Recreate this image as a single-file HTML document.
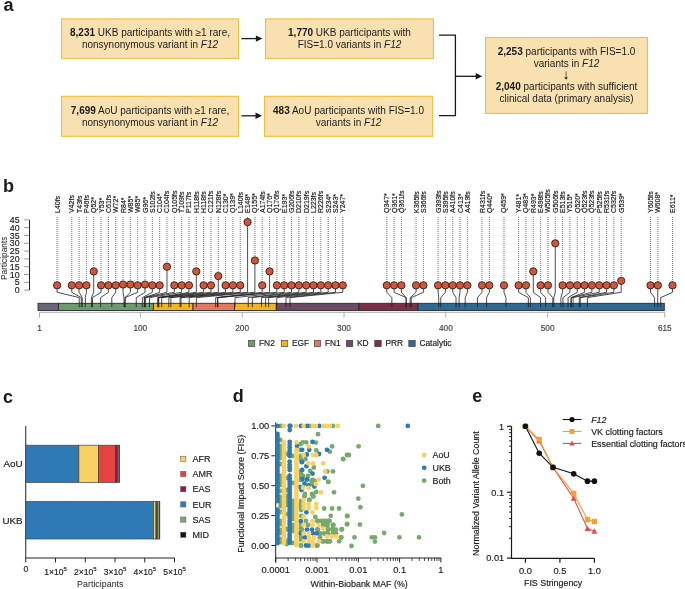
<!DOCTYPE html>
<html><head><meta charset="utf-8"><style>
html,body{margin:0;padding:0;background:#fff;overflow:hidden;}
text.w{stroke:#1a1a1a;stroke-width:0.16px;}
svg{display:block;will-change:transform;font-family:"Liberation Sans", sans-serif;}
</style></head><body>
<svg width="685" height="589" viewBox="0 0 685 589" font-family="Liberation Sans, sans-serif">
<rect width="685" height="589" fill="#fff"/>
<text x="3.4" y="10.7" font-size="18" font-weight="bold" fill="#1a1a1a">a</text>
<text x="2.9" y="192.2" font-size="18" font-weight="bold" fill="#1a1a1a">b</text>
<text x="2.9" y="402.8" font-size="18" font-weight="bold" fill="#1a1a1a">c</text>
<text x="232.8" y="402.1" font-size="18" font-weight="bold" fill="#1a1a1a">d</text>
<text x="472.2" y="402.1" font-size="18" font-weight="bold" fill="#1a1a1a">e</text>
<rect x="61.5" y="18.9" width="177.0" height="39.5" fill="#f9e0b0" stroke="#f1bd3e" stroke-width="1.1"/>
<text x="150" y="36.4" font-size="10" text-anchor="middle" fill="#1a1a1a"><tspan font-weight="bold">8,231</tspan><tspan> UKB participants with ≥1 rare,</tspan></text>
<text x="150" y="48.0" font-size="10" text-anchor="middle" fill="#1a1a1a"><tspan>nonsynonymous variant in </tspan><tspan font-style="italic">F12</tspan></text>
<rect x="61.5" y="96.3" width="177.0" height="40.000000000000014" fill="#f9e0b0" stroke="#f1bd3e" stroke-width="1.1"/>
<text x="150" y="113.9" font-size="10" text-anchor="middle" fill="#1a1a1a"><tspan font-weight="bold">7,699</tspan><tspan> AoU participants with ≥1 rare,</tspan></text>
<text x="150" y="125.5" font-size="10" text-anchor="middle" fill="#1a1a1a"><tspan>nonsynonymous variant in </tspan><tspan font-style="italic">F12</tspan></text>
<rect x="265.5" y="18.9" width="167.89999999999998" height="39.5" fill="#f9e0b0" stroke="#f1bd3e" stroke-width="1.1"/>
<text x="349.5" y="36.4" font-size="10" text-anchor="middle" fill="#1a1a1a"><tspan font-weight="bold">1,770</tspan><tspan> UKB participants with</tspan></text>
<text x="349.5" y="48.0" font-size="10" text-anchor="middle" fill="#1a1a1a"><tspan>FIS=1.0 variants in </tspan><tspan font-style="italic">F12</tspan></text>
<rect x="264.5" y="96.3" width="168.10000000000002" height="40.000000000000014" fill="#f9e0b0" stroke="#f1bd3e" stroke-width="1.1"/>
<text x="348.5" y="113.9" font-size="10" text-anchor="middle" fill="#1a1a1a"><tspan font-weight="bold">483</tspan><tspan> AoU participants with FIS=1.0</tspan></text>
<text x="348.5" y="125.5" font-size="10" text-anchor="middle" fill="#1a1a1a"><tspan>variants in </tspan><tspan font-style="italic">F12</tspan></text>
<rect x="485.5" y="37.5" width="161.89999999999998" height="75.9" fill="#f9e0b0" stroke="#f1bd3e" stroke-width="1.1"/>
<text x="566.5" y="54.6" font-size="10" text-anchor="middle" fill="#1a1a1a"><tspan font-weight="bold">2,253</tspan><tspan> participants with FIS=1.0</tspan></text>
<text x="566.5" y="66.6" font-size="10" text-anchor="middle" fill="#1a1a1a"><tspan>variants in </tspan><tspan font-style="italic">F12</tspan></text>
<text x="566.5" y="90.4" font-size="10" text-anchor="middle" fill="#1a1a1a"><tspan font-weight="bold">2,040</tspan><tspan> participants with sufficient</tspan></text>
<text x="566.5" y="101.8" font-size="10" text-anchor="middle" fill="#1a1a1a"><tspan>clinical data (primary analysis)</tspan></text>
<path d="M566.1 71.2 V77.6" stroke="#8a7e6a" stroke-width="1.3"/><path d="M564.3 77.2 L567.9 77.2 L566.1 79.7 Z" fill="#222"/>
<path d="M241.4 38.6 H257.4" stroke="#1a1a1a" stroke-width="1.3"/>
<path d="M255.89999999999998 35.4 L262.4 38.6 L255.89999999999998 41.800000000000004 Z" fill="#1a1a1a"/>
<path d="M241.4 115.8 H257.0" stroke="#1a1a1a" stroke-width="1.3"/>
<path d="M255.5 112.6 L262.0 115.8 L255.5 119.0 Z" fill="#1a1a1a"/>
<path d="M439 35.2 H455.4 V115.6 H439" fill="none" stroke="#1a1a1a" stroke-width="1.3"/>
<path d="M455.6 76.3 H477.2" stroke="#1a1a1a" stroke-width="1.3"/>
<path d="M475.7 73.1 L482.2 76.3 L475.7 79.5 Z" fill="#1a1a1a"/>
<path d="M29.5 219.9 V290.15" stroke="#222" stroke-width="1"/>
<path d="M24.1 290.15 H29.2" stroke="#999" stroke-width="1"/>
<text class="w" x="19.6" y="293.25" font-size="8.8" text-anchor="end" fill="#1a1a1a">0</text>
<path d="M24.1 282.34 H29.2" stroke="#999" stroke-width="1"/>
<text class="w" x="19.6" y="285.44" font-size="8.8" text-anchor="end" fill="#1a1a1a">5</text>
<path d="M24.1 274.53 H29.2" stroke="#999" stroke-width="1"/>
<text class="w" x="19.6" y="277.63" font-size="8.8" text-anchor="end" fill="#1a1a1a">10</text>
<path d="M24.1 266.72 H29.2" stroke="#999" stroke-width="1"/>
<text class="w" x="19.6" y="269.82" font-size="8.8" text-anchor="end" fill="#1a1a1a">15</text>
<path d="M24.1 258.91 H29.2" stroke="#999" stroke-width="1"/>
<text class="w" x="19.6" y="262.01" font-size="8.8" text-anchor="end" fill="#1a1a1a">20</text>
<path d="M24.1 251.09 H29.2" stroke="#999" stroke-width="1"/>
<text class="w" x="19.6" y="254.19" font-size="8.8" text-anchor="end" fill="#1a1a1a">25</text>
<path d="M24.1 243.28 H29.2" stroke="#999" stroke-width="1"/>
<text class="w" x="19.6" y="246.38" font-size="8.8" text-anchor="end" fill="#1a1a1a">30</text>
<path d="M24.1 235.47 H29.2" stroke="#999" stroke-width="1"/>
<text class="w" x="19.6" y="238.57" font-size="8.8" text-anchor="end" fill="#1a1a1a">35</text>
<path d="M24.1 227.66 H29.2" stroke="#999" stroke-width="1"/>
<text class="w" x="19.6" y="230.76" font-size="8.8" text-anchor="end" fill="#1a1a1a">40</text>
<path d="M24.1 219.85 H29.2" stroke="#999" stroke-width="1"/>
<text class="w" x="19.6" y="222.95" font-size="8.8" text-anchor="end" fill="#1a1a1a">45</text>
<text transform="translate(6.5 258.3) rotate(-90)" font-size="8.3" text-anchor="middle" fill="#1a1a1a">Participants</text>
<path d="M57.10 217 V281.66" stroke="#666" stroke-width="0.9" stroke-dasharray="1 1"/>
<text transform="translate(59.60 213) rotate(-90)" font-size="7" fill="#1a1a1a" stroke="#1a1a1a" stroke-width="0.18">L40fs</text>
<path d="M71.75 217 V281.66" stroke="#666" stroke-width="0.9" stroke-dasharray="1 1"/>
<text transform="translate(74.25 213) rotate(-90)" font-size="7" fill="#1a1a1a" stroke="#1a1a1a" stroke-width="0.18">V42fs</text>
<path d="M79.08 217 V281.66" stroke="#666" stroke-width="0.9" stroke-dasharray="1 1"/>
<text transform="translate(81.58 213) rotate(-90)" font-size="7" fill="#1a1a1a" stroke="#1a1a1a" stroke-width="0.18">T43fs</text>
<path d="M86.40 217 V281.66" stroke="#666" stroke-width="0.9" stroke-dasharray="1 1"/>
<text transform="translate(88.90 213) rotate(-90)" font-size="7" fill="#1a1a1a" stroke="#1a1a1a" stroke-width="0.18">P46fs</text>
<path d="M93.73 217 V267.75" stroke="#666" stroke-width="0.9" stroke-dasharray="1 1"/>
<text transform="translate(96.23 213) rotate(-90)" font-size="7" fill="#1a1a1a" stroke="#1a1a1a" stroke-width="0.18">Q52*</text>
<path d="M101.06 217 V281.66" stroke="#666" stroke-width="0.9" stroke-dasharray="1 1"/>
<text transform="translate(103.56 213) rotate(-90)" font-size="7" fill="#1a1a1a" stroke="#1a1a1a" stroke-width="0.18">Y53*</text>
<path d="M108.38 217 V281.66" stroke="#666" stroke-width="0.9" stroke-dasharray="1 1"/>
<text transform="translate(110.88 213) rotate(-90)" font-size="7" fill="#1a1a1a" stroke="#1a1a1a" stroke-width="0.18">C61fs</text>
<path d="M115.71 217 V281.66" stroke="#666" stroke-width="0.9" stroke-dasharray="1 1"/>
<text transform="translate(118.21 213) rotate(-90)" font-size="7" fill="#1a1a1a" stroke="#1a1a1a" stroke-width="0.18">W72*</text>
<path d="M123.03 217 V280.88" stroke="#666" stroke-width="0.9" stroke-dasharray="1 1"/>
<text transform="translate(125.53 213) rotate(-90)" font-size="7" fill="#1a1a1a" stroke="#1a1a1a" stroke-width="0.18">R84*</text>
<path d="M130.36 217 V280.88" stroke="#666" stroke-width="0.9" stroke-dasharray="1 1"/>
<text transform="translate(132.86 213) rotate(-90)" font-size="7" fill="#1a1a1a" stroke="#1a1a1a" stroke-width="0.18">W85*</text>
<path d="M137.69 217 V281.66" stroke="#666" stroke-width="0.9" stroke-dasharray="1 1"/>
<text transform="translate(140.19 213) rotate(-90)" font-size="7" fill="#1a1a1a" stroke="#1a1a1a" stroke-width="0.18">W85*</text>
<path d="M145.01 217 V280.88" stroke="#666" stroke-width="0.9" stroke-dasharray="1 1"/>
<text transform="translate(147.51 213) rotate(-90)" font-size="7" fill="#1a1a1a" stroke="#1a1a1a" stroke-width="0.18">G96*</text>
<path d="M152.34 217 V281.66" stroke="#666" stroke-width="0.9" stroke-dasharray="1 1"/>
<text transform="translate(154.84 213) rotate(-90)" font-size="7" fill="#1a1a1a" stroke="#1a1a1a" stroke-width="0.18">S102fs</text>
<path d="M159.66 217 V281.66" stroke="#666" stroke-width="0.9" stroke-dasharray="1 1"/>
<text transform="translate(162.16 213) rotate(-90)" font-size="7" fill="#1a1a1a" stroke="#1a1a1a" stroke-width="0.18">C104*</text>
<path d="M166.99 217 V263.07" stroke="#666" stroke-width="0.9" stroke-dasharray="1 1"/>
<text transform="translate(169.49 213) rotate(-90)" font-size="7" fill="#1a1a1a" stroke="#1a1a1a" stroke-width="0.18">C104fs</text>
<path d="M174.32 217 V281.66" stroke="#666" stroke-width="0.9" stroke-dasharray="1 1"/>
<text transform="translate(176.82 213) rotate(-90)" font-size="7" fill="#1a1a1a" stroke="#1a1a1a" stroke-width="0.18">Q105fs</text>
<path d="M181.64 217 V281.66" stroke="#666" stroke-width="0.9" stroke-dasharray="1 1"/>
<text transform="translate(184.14 213) rotate(-90)" font-size="7" fill="#1a1a1a" stroke="#1a1a1a" stroke-width="0.18">T109fs</text>
<path d="M188.97 217 V281.66" stroke="#666" stroke-width="0.9" stroke-dasharray="1 1"/>
<text transform="translate(191.47 213) rotate(-90)" font-size="7" fill="#1a1a1a" stroke="#1a1a1a" stroke-width="0.18">P117fs</text>
<path d="M196.29 217 V267.75" stroke="#666" stroke-width="0.9" stroke-dasharray="1 1"/>
<text transform="translate(198.79 213) rotate(-90)" font-size="7" fill="#1a1a1a" stroke="#1a1a1a" stroke-width="0.18">H118fs</text>
<path d="M203.62 217 V281.66" stroke="#666" stroke-width="0.9" stroke-dasharray="1 1"/>
<text transform="translate(206.12 213) rotate(-90)" font-size="7" fill="#1a1a1a" stroke="#1a1a1a" stroke-width="0.18">H118fs</text>
<path d="M210.95 217 V281.66" stroke="#666" stroke-width="0.9" stroke-dasharray="1 1"/>
<text transform="translate(213.45 213) rotate(-90)" font-size="7" fill="#1a1a1a" stroke="#1a1a1a" stroke-width="0.18">C121fs</text>
<path d="M218.27 217 V272.44" stroke="#666" stroke-width="0.9" stroke-dasharray="1 1"/>
<text transform="translate(220.77 213) rotate(-90)" font-size="7" fill="#1a1a1a" stroke="#1a1a1a" stroke-width="0.18">N128fs</text>
<path d="M225.60 217 V281.66" stroke="#666" stroke-width="0.9" stroke-dasharray="1 1"/>
<text transform="translate(228.10 213) rotate(-90)" font-size="7" fill="#1a1a1a" stroke="#1a1a1a" stroke-width="0.18">C130*</text>
<path d="M232.92 217 V281.66" stroke="#666" stroke-width="0.9" stroke-dasharray="1 1"/>
<text transform="translate(235.42 213) rotate(-90)" font-size="7" fill="#1a1a1a" stroke="#1a1a1a" stroke-width="0.18">Q139*</text>
<path d="M240.25 217 V281.66" stroke="#666" stroke-width="0.9" stroke-dasharray="1 1"/>
<text transform="translate(242.75 213) rotate(-90)" font-size="7" fill="#1a1a1a" stroke="#1a1a1a" stroke-width="0.18">L140fs</text>
<path d="M247.58 217 V218.39" stroke="#666" stroke-width="0.9" stroke-dasharray="1 1"/>
<text transform="translate(250.08 213) rotate(-90)" font-size="7" fill="#1a1a1a" stroke="#1a1a1a" stroke-width="0.18">E148*</text>
<path d="M254.90 217 V256.82" stroke="#666" stroke-width="0.9" stroke-dasharray="1 1"/>
<text transform="translate(257.40 213) rotate(-90)" font-size="7" fill="#1a1a1a" stroke="#1a1a1a" stroke-width="0.18">Q155*</text>
<path d="M262.23 217 V281.66" stroke="#666" stroke-width="0.9" stroke-dasharray="1 1"/>
<text transform="translate(264.73 213) rotate(-90)" font-size="7" fill="#1a1a1a" stroke="#1a1a1a" stroke-width="0.18">A174fs</text>
<path d="M269.55 217 V267.75" stroke="#666" stroke-width="0.9" stroke-dasharray="1 1"/>
<text transform="translate(272.05 213) rotate(-90)" font-size="7" fill="#1a1a1a" stroke="#1a1a1a" stroke-width="0.18">Q176*</text>
<path d="M276.88 217 V281.66" stroke="#666" stroke-width="0.9" stroke-dasharray="1 1"/>
<text transform="translate(279.38 213) rotate(-90)" font-size="7" fill="#1a1a1a" stroke="#1a1a1a" stroke-width="0.18">Q176fs</text>
<path d="M284.21 217 V281.66" stroke="#666" stroke-width="0.9" stroke-dasharray="1 1"/>
<text transform="translate(286.71 213) rotate(-90)" font-size="7" fill="#1a1a1a" stroke="#1a1a1a" stroke-width="0.18">E193*</text>
<path d="M291.53 217 V281.66" stroke="#666" stroke-width="0.9" stroke-dasharray="1 1"/>
<text transform="translate(294.03 213) rotate(-90)" font-size="7" fill="#1a1a1a" stroke="#1a1a1a" stroke-width="0.18">G206fs</text>
<path d="M298.86 217 V281.66" stroke="#666" stroke-width="0.9" stroke-dasharray="1 1"/>
<text transform="translate(301.36 213) rotate(-90)" font-size="7" fill="#1a1a1a" stroke="#1a1a1a" stroke-width="0.18">D210fs</text>
<path d="M306.18 217 V281.66" stroke="#666" stroke-width="0.9" stroke-dasharray="1 1"/>
<text transform="translate(308.68 213) rotate(-90)" font-size="7" fill="#1a1a1a" stroke="#1a1a1a" stroke-width="0.18">D219fs</text>
<path d="M313.51 217 V281.66" stroke="#666" stroke-width="0.9" stroke-dasharray="1 1"/>
<text transform="translate(316.01 213) rotate(-90)" font-size="7" fill="#1a1a1a" stroke="#1a1a1a" stroke-width="0.18">L223fs</text>
<path d="M320.84 217 V281.66" stroke="#666" stroke-width="0.9" stroke-dasharray="1 1"/>
<text transform="translate(323.34 213) rotate(-90)" font-size="7" fill="#1a1a1a" stroke="#1a1a1a" stroke-width="0.18">R226fs</text>
<path d="M328.16 217 V281.66" stroke="#666" stroke-width="0.9" stroke-dasharray="1 1"/>
<text transform="translate(330.66 213) rotate(-90)" font-size="7" fill="#1a1a1a" stroke="#1a1a1a" stroke-width="0.18">S234*</text>
<path d="M335.49 217 V281.66" stroke="#666" stroke-width="0.9" stroke-dasharray="1 1"/>
<text transform="translate(337.99 213) rotate(-90)" font-size="7" fill="#1a1a1a" stroke="#1a1a1a" stroke-width="0.18">S243*</text>
<path d="M342.81 217 V281.66" stroke="#666" stroke-width="0.9" stroke-dasharray="1 1"/>
<text transform="translate(345.31 213) rotate(-90)" font-size="7" fill="#1a1a1a" stroke="#1a1a1a" stroke-width="0.18">Y247*</text>
<path d="M386.77 217 V281.66" stroke="#666" stroke-width="0.9" stroke-dasharray="1 1"/>
<text transform="translate(389.27 213) rotate(-90)" font-size="7" fill="#1a1a1a" stroke="#1a1a1a" stroke-width="0.18">Q347*</text>
<path d="M394.10 217 V281.66" stroke="#666" stroke-width="0.9" stroke-dasharray="1 1"/>
<text transform="translate(396.60 213) rotate(-90)" font-size="7" fill="#1a1a1a" stroke="#1a1a1a" stroke-width="0.18">Q361*</text>
<path d="M401.42 217 V281.66" stroke="#666" stroke-width="0.9" stroke-dasharray="1 1"/>
<text transform="translate(403.92 213) rotate(-90)" font-size="7" fill="#1a1a1a" stroke="#1a1a1a" stroke-width="0.18">Q361fs</text>
<path d="M416.07 217 V281.66" stroke="#666" stroke-width="0.9" stroke-dasharray="1 1"/>
<text transform="translate(418.57 213) rotate(-90)" font-size="7" fill="#1a1a1a" stroke="#1a1a1a" stroke-width="0.18">K365fs</text>
<path d="M423.40 217 V281.66" stroke="#666" stroke-width="0.9" stroke-dasharray="1 1"/>
<text transform="translate(425.90 213) rotate(-90)" font-size="7" fill="#1a1a1a" stroke="#1a1a1a" stroke-width="0.18">S366fs</text>
<path d="M438.05 217 V281.66" stroke="#666" stroke-width="0.9" stroke-dasharray="1 1"/>
<text transform="translate(440.55 213) rotate(-90)" font-size="7" fill="#1a1a1a" stroke="#1a1a1a" stroke-width="0.18">G393fs</text>
<path d="M445.38 217 V281.66" stroke="#666" stroke-width="0.9" stroke-dasharray="1 1"/>
<text transform="translate(447.88 213) rotate(-90)" font-size="7" fill="#1a1a1a" stroke="#1a1a1a" stroke-width="0.18">S395fs</text>
<path d="M452.70 217 V281.66" stroke="#666" stroke-width="0.9" stroke-dasharray="1 1"/>
<text transform="translate(455.20 213) rotate(-90)" font-size="7" fill="#1a1a1a" stroke="#1a1a1a" stroke-width="0.18">A410fs</text>
<path d="M460.03 217 V281.66" stroke="#666" stroke-width="0.9" stroke-dasharray="1 1"/>
<text transform="translate(462.53 213) rotate(-90)" font-size="7" fill="#1a1a1a" stroke="#1a1a1a" stroke-width="0.18">C413*</text>
<path d="M467.36 217 V281.66" stroke="#666" stroke-width="0.9" stroke-dasharray="1 1"/>
<text transform="translate(469.86 213) rotate(-90)" font-size="7" fill="#1a1a1a" stroke="#1a1a1a" stroke-width="0.18">A419fs</text>
<path d="M482.01 217 V281.66" stroke="#666" stroke-width="0.9" stroke-dasharray="1 1"/>
<text transform="translate(484.51 213) rotate(-90)" font-size="7" fill="#1a1a1a" stroke="#1a1a1a" stroke-width="0.18">R431fs</text>
<path d="M489.33 217 V281.66" stroke="#666" stroke-width="0.9" stroke-dasharray="1 1"/>
<text transform="translate(491.83 213) rotate(-90)" font-size="7" fill="#1a1a1a" stroke="#1a1a1a" stroke-width="0.18">Q440*</text>
<path d="M503.99 217 V281.66" stroke="#666" stroke-width="0.9" stroke-dasharray="1 1"/>
<text transform="translate(506.49 213) rotate(-90)" font-size="7" fill="#1a1a1a" stroke="#1a1a1a" stroke-width="0.18">Q459*</text>
<path d="M518.64 217 V281.66" stroke="#666" stroke-width="0.9" stroke-dasharray="1 1"/>
<text transform="translate(521.14 213) rotate(-90)" font-size="7" fill="#1a1a1a" stroke="#1a1a1a" stroke-width="0.18">Y481*</text>
<path d="M525.96 217 V281.66" stroke="#666" stroke-width="0.9" stroke-dasharray="1 1"/>
<text transform="translate(528.46 213) rotate(-90)" font-size="7" fill="#1a1a1a" stroke="#1a1a1a" stroke-width="0.18">Q483*</text>
<path d="M533.29 217 V267.75" stroke="#666" stroke-width="0.9" stroke-dasharray="1 1"/>
<text transform="translate(535.79 213) rotate(-90)" font-size="7" fill="#1a1a1a" stroke="#1a1a1a" stroke-width="0.18">R493*</text>
<path d="M540.62 217 V281.66" stroke="#666" stroke-width="0.9" stroke-dasharray="1 1"/>
<text transform="translate(543.12 213) rotate(-90)" font-size="7" fill="#1a1a1a" stroke="#1a1a1a" stroke-width="0.18">E498fs</text>
<path d="M547.94 217 V281.66" stroke="#666" stroke-width="0.9" stroke-dasharray="1 1"/>
<text transform="translate(550.44 213) rotate(-90)" font-size="7" fill="#1a1a1a" stroke="#1a1a1a" stroke-width="0.18">W505fs</text>
<path d="M555.27 217 V239.63" stroke="#666" stroke-width="0.9" stroke-dasharray="1 1"/>
<text transform="translate(557.77 213) rotate(-90)" font-size="7" fill="#1a1a1a" stroke="#1a1a1a" stroke-width="0.18">G506fs</text>
<path d="M562.59 217 V281.66" stroke="#666" stroke-width="0.9" stroke-dasharray="1 1"/>
<text transform="translate(565.09 213) rotate(-90)" font-size="7" fill="#1a1a1a" stroke="#1a1a1a" stroke-width="0.18">E513fs</text>
<path d="M569.92 217 V281.66" stroke="#666" stroke-width="0.9" stroke-dasharray="1 1"/>
<text transform="translate(572.42 213) rotate(-90)" font-size="7" fill="#1a1a1a" stroke="#1a1a1a" stroke-width="0.18">Y515*</text>
<path d="M577.25 217 V281.66" stroke="#666" stroke-width="0.9" stroke-dasharray="1 1"/>
<text transform="translate(579.75 213) rotate(-90)" font-size="7" fill="#1a1a1a" stroke="#1a1a1a" stroke-width="0.18">Q520*</text>
<path d="M584.57 217 V281.66" stroke="#666" stroke-width="0.9" stroke-dasharray="1 1"/>
<text transform="translate(587.07 213) rotate(-90)" font-size="7" fill="#1a1a1a" stroke="#1a1a1a" stroke-width="0.18">Q523fs</text>
<path d="M591.90 217 V281.66" stroke="#666" stroke-width="0.9" stroke-dasharray="1 1"/>
<text transform="translate(594.40 213) rotate(-90)" font-size="7" fill="#1a1a1a" stroke="#1a1a1a" stroke-width="0.18">Q523fs</text>
<path d="M599.22 217 V281.66" stroke="#666" stroke-width="0.9" stroke-dasharray="1 1"/>
<text transform="translate(601.72 213) rotate(-90)" font-size="7" fill="#1a1a1a" stroke="#1a1a1a" stroke-width="0.18">P525fs</text>
<path d="M606.55 217 V281.66" stroke="#666" stroke-width="0.9" stroke-dasharray="1 1"/>
<text transform="translate(609.05 213) rotate(-90)" font-size="7" fill="#1a1a1a" stroke="#1a1a1a" stroke-width="0.18">R531fs</text>
<path d="M613.88 217 V281.66" stroke="#666" stroke-width="0.9" stroke-dasharray="1 1"/>
<text transform="translate(616.38 213) rotate(-90)" font-size="7" fill="#1a1a1a" stroke="#1a1a1a" stroke-width="0.18">C532fs</text>
<path d="M621.20 217 V277.13" stroke="#666" stroke-width="0.9" stroke-dasharray="1 1"/>
<text transform="translate(623.70 213) rotate(-90)" font-size="7" fill="#1a1a1a" stroke="#1a1a1a" stroke-width="0.18">G539*</text>
<path d="M650.51 217 V281.66" stroke="#666" stroke-width="0.9" stroke-dasharray="1 1"/>
<text transform="translate(653.01 213) rotate(-90)" font-size="7" fill="#1a1a1a" stroke="#1a1a1a" stroke-width="0.18">Y605fs</text>
<path d="M657.83 217 V281.66" stroke="#666" stroke-width="0.9" stroke-dasharray="1 1"/>
<text transform="translate(660.33 213) rotate(-90)" font-size="7" fill="#1a1a1a" stroke="#1a1a1a" stroke-width="0.18">W608*</text>
<path d="M672.48 217 V281.66" stroke="#666" stroke-width="0.9" stroke-dasharray="1 1"/>
<text transform="translate(674.98 213) rotate(-90)" font-size="7" fill="#1a1a1a" stroke="#1a1a1a" stroke-width="0.18">E611*</text>
<rect x="38.0" y="303.3" width="20.40" height="7.2" fill="#6a6878" stroke="#2a2a2a" stroke-width="0.9"/>
<rect x="58.4" y="303.3" width="95.00" height="7.2" fill="#6e9a72" stroke="#2a2a2a" stroke-width="0.9"/>
<rect x="153.4" y="303.3" width="39.60" height="7.2" fill="#f0b424" stroke="#2a2a2a" stroke-width="0.9"/>
<rect x="193.0" y="303.3" width="41.50" height="7.2" fill="#e07a62" stroke="#2a2a2a" stroke-width="0.9"/>
<rect x="234.5" y="303.3" width="41.80" height="7.2" fill="#f0b424" stroke="#2a2a2a" stroke-width="0.9"/>
<rect x="276.3" y="303.3" width="82.70" height="7.2" fill="#6e4a64" stroke="#2a2a2a" stroke-width="0.9"/>
<rect x="359.0" y="303.3" width="59.00" height="7.2" fill="#7a3045" stroke="#2a2a2a" stroke-width="0.9"/>
<rect x="418.0" y="303.3" width="246.30" height="7.2" fill="#2e6a92" stroke="#2a2a2a" stroke-width="0.9"/>
<path d="M57.10 285.31 V292.3 L79.22 297.6 V307.2" fill="none" stroke="#1e1e1e" stroke-width="0.8"/>
<path d="M71.75 285.31 V292.3 L81.25 297.6 V307.2" fill="none" stroke="#1e1e1e" stroke-width="0.8"/>
<path d="M79.08 285.31 V292.3 L82.27 297.6 V307.2" fill="none" stroke="#1e1e1e" stroke-width="0.8"/>
<path d="M86.40 285.31 V292.3 L85.33 297.6 V307.2" fill="none" stroke="#1e1e1e" stroke-width="0.8"/>
<path d="M93.73 271.40 V292.3 L91.44 297.6 V307.2" fill="none" stroke="#1e1e1e" stroke-width="0.8"/>
<path d="M101.06 285.31 V292.3 L92.46 297.6 V307.2" fill="none" stroke="#1e1e1e" stroke-width="0.8"/>
<path d="M108.38 285.31 V292.3 L100.60 297.6 V307.2" fill="none" stroke="#1e1e1e" stroke-width="0.8"/>
<path d="M115.71 285.31 V292.3 L111.81 297.6 V307.2" fill="none" stroke="#1e1e1e" stroke-width="0.8"/>
<path d="M123.03 284.53 V292.3 L124.03 297.6 V307.2" fill="none" stroke="#1e1e1e" stroke-width="0.8"/>
<path d="M130.36 284.53 V292.3 L125.05 297.6 V307.2" fill="none" stroke="#1e1e1e" stroke-width="0.8"/>
<path d="M137.69 285.31 V292.3 L125.05 297.6 V307.2" fill="none" stroke="#1e1e1e" stroke-width="0.8"/>
<path d="M145.01 284.53 V292.3 L136.25 297.6 V307.2" fill="none" stroke="#1e1e1e" stroke-width="0.8"/>
<path d="M152.34 285.31 V292.3 L142.36 297.6 V307.2" fill="none" stroke="#1e1e1e" stroke-width="0.8"/>
<path d="M159.66 285.31 V292.3 L144.40 297.6 V307.2" fill="none" stroke="#1e1e1e" stroke-width="0.8"/>
<path d="M166.99 266.72 V292.3 L144.40 297.6 V307.2" fill="none" stroke="#1e1e1e" stroke-width="0.8"/>
<path d="M174.32 285.31 V292.3 L145.41 297.6 V307.2" fill="none" stroke="#1e1e1e" stroke-width="0.8"/>
<path d="M181.64 285.31 V292.3 L149.49 297.6 V307.2" fill="none" stroke="#1e1e1e" stroke-width="0.8"/>
<path d="M188.97 285.31 V292.3 L157.63 297.6 V307.2" fill="none" stroke="#1e1e1e" stroke-width="0.8"/>
<path d="M196.29 271.40 V292.3 L158.65 297.6 V307.2" fill="none" stroke="#1e1e1e" stroke-width="0.8"/>
<path d="M203.62 285.31 V292.3 L158.65 297.6 V307.2" fill="none" stroke="#1e1e1e" stroke-width="0.8"/>
<path d="M210.95 285.31 V292.3 L161.71 297.6 V307.2" fill="none" stroke="#1e1e1e" stroke-width="0.8"/>
<path d="M218.27 276.09 V292.3 L168.84 297.6 V307.2" fill="none" stroke="#1e1e1e" stroke-width="0.8"/>
<path d="M225.60 285.31 V292.3 L170.87 297.6 V307.2" fill="none" stroke="#1e1e1e" stroke-width="0.8"/>
<path d="M232.92 285.31 V292.3 L180.04 297.6 V307.2" fill="none" stroke="#1e1e1e" stroke-width="0.8"/>
<path d="M240.25 285.31 V292.3 L181.06 297.6 V307.2" fill="none" stroke="#1e1e1e" stroke-width="0.8"/>
<path d="M247.58 222.04 V292.3 L189.20 297.6 V307.2" fill="none" stroke="#1e1e1e" stroke-width="0.8"/>
<path d="M254.90 260.47 V292.3 L196.33 297.6 V307.2" fill="none" stroke="#1e1e1e" stroke-width="0.8"/>
<path d="M262.23 285.31 V292.3 L215.68 297.6 V307.2" fill="none" stroke="#1e1e1e" stroke-width="0.8"/>
<path d="M269.55 271.40 V292.3 L217.72 297.6 V307.2" fill="none" stroke="#1e1e1e" stroke-width="0.8"/>
<path d="M276.88 285.31 V292.3 L217.72 297.6 V307.2" fill="none" stroke="#1e1e1e" stroke-width="0.8"/>
<path d="M284.21 285.31 V292.3 L235.03 297.6 V307.2" fill="none" stroke="#1e1e1e" stroke-width="0.8"/>
<path d="M291.53 285.31 V292.3 L248.27 297.6 V307.2" fill="none" stroke="#1e1e1e" stroke-width="0.8"/>
<path d="M298.86 285.31 V292.3 L252.35 297.6 V307.2" fill="none" stroke="#1e1e1e" stroke-width="0.8"/>
<path d="M306.18 285.31 V292.3 L261.51 297.6 V307.2" fill="none" stroke="#1e1e1e" stroke-width="0.8"/>
<path d="M313.51 285.31 V292.3 L265.58 297.6 V307.2" fill="none" stroke="#1e1e1e" stroke-width="0.8"/>
<path d="M320.84 285.31 V292.3 L268.64 297.6 V307.2" fill="none" stroke="#1e1e1e" stroke-width="0.8"/>
<path d="M328.16 285.31 V292.3 L276.79 297.6 V307.2" fill="none" stroke="#1e1e1e" stroke-width="0.8"/>
<path d="M335.49 285.31 V292.3 L285.95 297.6 V307.2" fill="none" stroke="#1e1e1e" stroke-width="0.8"/>
<path d="M342.81 285.31 V292.3 L290.03 297.6 V307.2" fill="none" stroke="#1e1e1e" stroke-width="0.8"/>
<path d="M386.77 285.31 V292.3 L391.87 297.6 V307.2" fill="none" stroke="#1e1e1e" stroke-width="0.8"/>
<path d="M394.10 285.31 V292.3 L406.12 297.6 V307.2" fill="none" stroke="#1e1e1e" stroke-width="0.8"/>
<path d="M401.42 285.31 V292.3 L406.12 297.6 V307.2" fill="none" stroke="#1e1e1e" stroke-width="0.8"/>
<path d="M416.07 285.31 V292.3 L410.20 297.6 V307.2" fill="none" stroke="#1e1e1e" stroke-width="0.8"/>
<path d="M423.40 285.31 V292.3 L411.22 297.6 V307.2" fill="none" stroke="#1e1e1e" stroke-width="0.8"/>
<path d="M438.05 285.31 V292.3 L438.71 297.6 V307.2" fill="none" stroke="#1e1e1e" stroke-width="0.8"/>
<path d="M445.38 285.31 V292.3 L440.75 297.6 V307.2" fill="none" stroke="#1e1e1e" stroke-width="0.8"/>
<path d="M452.70 285.31 V292.3 L456.03 297.6 V307.2" fill="none" stroke="#1e1e1e" stroke-width="0.8"/>
<path d="M460.03 285.31 V292.3 L459.08 297.6 V307.2" fill="none" stroke="#1e1e1e" stroke-width="0.8"/>
<path d="M467.36 285.31 V292.3 L465.19 297.6 V307.2" fill="none" stroke="#1e1e1e" stroke-width="0.8"/>
<path d="M482.01 285.31 V292.3 L477.41 297.6 V307.2" fill="none" stroke="#1e1e1e" stroke-width="0.8"/>
<path d="M489.33 285.31 V292.3 L486.58 297.6 V307.2" fill="none" stroke="#1e1e1e" stroke-width="0.8"/>
<path d="M503.99 285.31 V292.3 L505.93 297.6 V307.2" fill="none" stroke="#1e1e1e" stroke-width="0.8"/>
<path d="M518.64 285.31 V292.3 L528.33 297.6 V307.2" fill="none" stroke="#1e1e1e" stroke-width="0.8"/>
<path d="M525.96 285.31 V292.3 L530.37 297.6 V307.2" fill="none" stroke="#1e1e1e" stroke-width="0.8"/>
<path d="M533.29 271.40 V292.3 L540.55 297.6 V307.2" fill="none" stroke="#1e1e1e" stroke-width="0.8"/>
<path d="M540.62 285.31 V292.3 L545.64 297.6 V307.2" fill="none" stroke="#1e1e1e" stroke-width="0.8"/>
<path d="M547.94 285.31 V292.3 L552.77 297.6 V307.2" fill="none" stroke="#1e1e1e" stroke-width="0.8"/>
<path d="M555.27 243.28 V292.3 L553.79 297.6 V307.2" fill="none" stroke="#1e1e1e" stroke-width="0.8"/>
<path d="M562.59 285.31 V292.3 L560.92 297.6 V307.2" fill="none" stroke="#1e1e1e" stroke-width="0.8"/>
<path d="M569.92 285.31 V292.3 L562.96 297.6 V307.2" fill="none" stroke="#1e1e1e" stroke-width="0.8"/>
<path d="M577.25 285.31 V292.3 L568.05 297.6 V307.2" fill="none" stroke="#1e1e1e" stroke-width="0.8"/>
<path d="M584.57 285.31 V292.3 L571.10 297.6 V307.2" fill="none" stroke="#1e1e1e" stroke-width="0.8"/>
<path d="M591.90 285.31 V292.3 L571.10 297.6 V307.2" fill="none" stroke="#1e1e1e" stroke-width="0.8"/>
<path d="M599.22 285.31 V292.3 L573.14 297.6 V307.2" fill="none" stroke="#1e1e1e" stroke-width="0.8"/>
<path d="M606.55 285.31 V292.3 L579.25 297.6 V307.2" fill="none" stroke="#1e1e1e" stroke-width="0.8"/>
<path d="M613.88 285.31 V292.3 L580.27 297.6 V307.2" fill="none" stroke="#1e1e1e" stroke-width="0.8"/>
<path d="M621.20 280.78 V292.3 L587.40 297.6 V307.2" fill="none" stroke="#1e1e1e" stroke-width="0.8"/>
<path d="M650.51 285.31 V292.3 L654.61 297.6 V307.2" fill="none" stroke="#1e1e1e" stroke-width="0.8"/>
<path d="M657.83 285.31 V292.3 L657.67 297.6 V307.2" fill="none" stroke="#1e1e1e" stroke-width="0.8"/>
<path d="M672.48 285.31 V292.3 L660.72 297.6 V307.2" fill="none" stroke="#1e1e1e" stroke-width="0.8"/>
<circle cx="57.10" cy="285.31" r="3.65" fill="#d2553a" stroke="#2a1610" stroke-width="0.85"/>
<circle cx="71.75" cy="285.31" r="3.65" fill="#d2553a" stroke="#2a1610" stroke-width="0.85"/>
<circle cx="79.08" cy="285.31" r="3.65" fill="#d2553a" stroke="#2a1610" stroke-width="0.85"/>
<circle cx="86.40" cy="285.31" r="3.65" fill="#d2553a" stroke="#2a1610" stroke-width="0.85"/>
<circle cx="93.73" cy="271.40" r="3.65" fill="#d2553a" stroke="#2a1610" stroke-width="0.85"/>
<circle cx="101.06" cy="285.31" r="3.65" fill="#d2553a" stroke="#2a1610" stroke-width="0.85"/>
<circle cx="108.38" cy="285.31" r="3.65" fill="#d2553a" stroke="#2a1610" stroke-width="0.85"/>
<circle cx="115.71" cy="285.31" r="3.65" fill="#d2553a" stroke="#2a1610" stroke-width="0.85"/>
<circle cx="123.03" cy="284.53" r="3.65" fill="#d2553a" stroke="#2a1610" stroke-width="0.85"/>
<circle cx="130.36" cy="284.53" r="3.65" fill="#d2553a" stroke="#2a1610" stroke-width="0.85"/>
<circle cx="137.69" cy="285.31" r="3.65" fill="#d2553a" stroke="#2a1610" stroke-width="0.85"/>
<circle cx="145.01" cy="284.53" r="3.65" fill="#d2553a" stroke="#2a1610" stroke-width="0.85"/>
<circle cx="152.34" cy="285.31" r="3.65" fill="#d2553a" stroke="#2a1610" stroke-width="0.85"/>
<circle cx="159.66" cy="285.31" r="3.65" fill="#d2553a" stroke="#2a1610" stroke-width="0.85"/>
<circle cx="166.99" cy="266.72" r="3.65" fill="#d2553a" stroke="#2a1610" stroke-width="0.85"/>
<circle cx="174.32" cy="285.31" r="3.65" fill="#d2553a" stroke="#2a1610" stroke-width="0.85"/>
<circle cx="181.64" cy="285.31" r="3.65" fill="#d2553a" stroke="#2a1610" stroke-width="0.85"/>
<circle cx="188.97" cy="285.31" r="3.65" fill="#d2553a" stroke="#2a1610" stroke-width="0.85"/>
<circle cx="196.29" cy="271.40" r="3.65" fill="#d2553a" stroke="#2a1610" stroke-width="0.85"/>
<circle cx="203.62" cy="285.31" r="3.65" fill="#d2553a" stroke="#2a1610" stroke-width="0.85"/>
<circle cx="210.95" cy="285.31" r="3.65" fill="#d2553a" stroke="#2a1610" stroke-width="0.85"/>
<circle cx="218.27" cy="276.09" r="3.65" fill="#d2553a" stroke="#2a1610" stroke-width="0.85"/>
<circle cx="225.60" cy="285.31" r="3.65" fill="#d2553a" stroke="#2a1610" stroke-width="0.85"/>
<circle cx="232.92" cy="285.31" r="3.65" fill="#d2553a" stroke="#2a1610" stroke-width="0.85"/>
<circle cx="240.25" cy="285.31" r="3.65" fill="#d2553a" stroke="#2a1610" stroke-width="0.85"/>
<circle cx="247.58" cy="222.04" r="3.65" fill="#d2553a" stroke="#2a1610" stroke-width="0.85"/>
<circle cx="254.90" cy="260.47" r="3.65" fill="#d2553a" stroke="#2a1610" stroke-width="0.85"/>
<circle cx="262.23" cy="285.31" r="3.65" fill="#d2553a" stroke="#2a1610" stroke-width="0.85"/>
<circle cx="269.55" cy="271.40" r="3.65" fill="#d2553a" stroke="#2a1610" stroke-width="0.85"/>
<circle cx="276.88" cy="285.31" r="3.65" fill="#d2553a" stroke="#2a1610" stroke-width="0.85"/>
<circle cx="284.21" cy="285.31" r="3.65" fill="#d2553a" stroke="#2a1610" stroke-width="0.85"/>
<circle cx="291.53" cy="285.31" r="3.65" fill="#d2553a" stroke="#2a1610" stroke-width="0.85"/>
<circle cx="298.86" cy="285.31" r="3.65" fill="#d2553a" stroke="#2a1610" stroke-width="0.85"/>
<circle cx="306.18" cy="285.31" r="3.65" fill="#d2553a" stroke="#2a1610" stroke-width="0.85"/>
<circle cx="313.51" cy="285.31" r="3.65" fill="#d2553a" stroke="#2a1610" stroke-width="0.85"/>
<circle cx="320.84" cy="285.31" r="3.65" fill="#d2553a" stroke="#2a1610" stroke-width="0.85"/>
<circle cx="328.16" cy="285.31" r="3.65" fill="#d2553a" stroke="#2a1610" stroke-width="0.85"/>
<circle cx="335.49" cy="285.31" r="3.65" fill="#d2553a" stroke="#2a1610" stroke-width="0.85"/>
<circle cx="342.81" cy="285.31" r="3.65" fill="#d2553a" stroke="#2a1610" stroke-width="0.85"/>
<circle cx="386.77" cy="285.31" r="3.65" fill="#d2553a" stroke="#2a1610" stroke-width="0.85"/>
<circle cx="394.10" cy="285.31" r="3.65" fill="#d2553a" stroke="#2a1610" stroke-width="0.85"/>
<circle cx="401.42" cy="285.31" r="3.65" fill="#d2553a" stroke="#2a1610" stroke-width="0.85"/>
<circle cx="416.07" cy="285.31" r="3.65" fill="#d2553a" stroke="#2a1610" stroke-width="0.85"/>
<circle cx="423.40" cy="285.31" r="3.65" fill="#d2553a" stroke="#2a1610" stroke-width="0.85"/>
<circle cx="438.05" cy="285.31" r="3.65" fill="#d2553a" stroke="#2a1610" stroke-width="0.85"/>
<circle cx="445.38" cy="285.31" r="3.65" fill="#d2553a" stroke="#2a1610" stroke-width="0.85"/>
<circle cx="452.70" cy="285.31" r="3.65" fill="#d2553a" stroke="#2a1610" stroke-width="0.85"/>
<circle cx="460.03" cy="285.31" r="3.65" fill="#d2553a" stroke="#2a1610" stroke-width="0.85"/>
<circle cx="467.36" cy="285.31" r="3.65" fill="#d2553a" stroke="#2a1610" stroke-width="0.85"/>
<circle cx="482.01" cy="285.31" r="3.65" fill="#d2553a" stroke="#2a1610" stroke-width="0.85"/>
<circle cx="489.33" cy="285.31" r="3.65" fill="#d2553a" stroke="#2a1610" stroke-width="0.85"/>
<circle cx="503.99" cy="285.31" r="3.65" fill="#d2553a" stroke="#2a1610" stroke-width="0.85"/>
<circle cx="518.64" cy="285.31" r="3.65" fill="#d2553a" stroke="#2a1610" stroke-width="0.85"/>
<circle cx="525.96" cy="285.31" r="3.65" fill="#d2553a" stroke="#2a1610" stroke-width="0.85"/>
<circle cx="533.29" cy="271.40" r="3.65" fill="#d2553a" stroke="#2a1610" stroke-width="0.85"/>
<circle cx="540.62" cy="285.31" r="3.65" fill="#d2553a" stroke="#2a1610" stroke-width="0.85"/>
<circle cx="547.94" cy="285.31" r="3.65" fill="#d2553a" stroke="#2a1610" stroke-width="0.85"/>
<circle cx="555.27" cy="243.28" r="3.65" fill="#d2553a" stroke="#2a1610" stroke-width="0.85"/>
<circle cx="562.59" cy="285.31" r="3.65" fill="#d2553a" stroke="#2a1610" stroke-width="0.85"/>
<circle cx="569.92" cy="285.31" r="3.65" fill="#d2553a" stroke="#2a1610" stroke-width="0.85"/>
<circle cx="577.25" cy="285.31" r="3.65" fill="#d2553a" stroke="#2a1610" stroke-width="0.85"/>
<circle cx="584.57" cy="285.31" r="3.65" fill="#d2553a" stroke="#2a1610" stroke-width="0.85"/>
<circle cx="591.90" cy="285.31" r="3.65" fill="#d2553a" stroke="#2a1610" stroke-width="0.85"/>
<circle cx="599.22" cy="285.31" r="3.65" fill="#d2553a" stroke="#2a1610" stroke-width="0.85"/>
<circle cx="606.55" cy="285.31" r="3.65" fill="#d2553a" stroke="#2a1610" stroke-width="0.85"/>
<circle cx="613.88" cy="285.31" r="3.65" fill="#d2553a" stroke="#2a1610" stroke-width="0.85"/>
<circle cx="621.20" cy="280.78" r="3.65" fill="#d2553a" stroke="#2a1610" stroke-width="0.85"/>
<circle cx="650.51" cy="285.31" r="3.65" fill="#d2553a" stroke="#2a1610" stroke-width="0.85"/>
<circle cx="657.83" cy="285.31" r="3.65" fill="#d2553a" stroke="#2a1610" stroke-width="0.85"/>
<circle cx="672.48" cy="285.31" r="3.65" fill="#d2553a" stroke="#2a1610" stroke-width="0.85"/>
<path d="M39.5 317.5 V312.3 H664.8 V317.5" fill="none" stroke="#aaa" stroke-width="1"/>
<path d="M140.32 312.3 V317.5" stroke="#aaa" stroke-width="1"/>
<path d="M242.16 312.3 V317.5" stroke="#aaa" stroke-width="1"/>
<path d="M344.00 312.3 V317.5" stroke="#aaa" stroke-width="1"/>
<path d="M445.84 312.3 V317.5" stroke="#aaa" stroke-width="1"/>
<path d="M547.68 312.3 V317.5" stroke="#aaa" stroke-width="1"/>
<text class="w" x="39.50" y="331.2" font-size="8.3" text-anchor="middle" fill="#555">1</text>
<text class="w" x="140.32" y="331.2" font-size="8.3" text-anchor="middle" fill="#555">100</text>
<text class="w" x="242.16" y="331.2" font-size="8.3" text-anchor="middle" fill="#555">200</text>
<text class="w" x="344.00" y="331.2" font-size="8.3" text-anchor="middle" fill="#555">300</text>
<text class="w" x="445.84" y="331.2" font-size="8.3" text-anchor="middle" fill="#555">400</text>
<text class="w" x="547.68" y="331.2" font-size="8.3" text-anchor="middle" fill="#555">500</text>
<text class="w" x="664.80" y="331.2" font-size="8.3" text-anchor="middle" fill="#555">615</text>
<rect x="248.4" y="340.3" width="6.4" height="6.4" fill="#6e9a72" stroke="#333" stroke-width="0.6"/>
<text class="w" x="259.0" y="346.4" font-size="8.4" fill="#1a1a1a">FN2</text>
<rect x="281.4" y="340.3" width="6.4" height="6.4" fill="#f0b424" stroke="#333" stroke-width="0.6"/>
<text class="w" x="292.0" y="346.4" font-size="8.4" fill="#1a1a1a">EGF</text>
<rect x="314.3" y="340.3" width="6.4" height="6.4" fill="#e07a62" stroke="#333" stroke-width="0.6"/>
<text class="w" x="324.90000000000003" y="346.4" font-size="8.4" fill="#1a1a1a">FN1</text>
<rect x="346.4" y="340.3" width="6.4" height="6.4" fill="#6e4a64" stroke="#333" stroke-width="0.6"/>
<text class="w" x="357.0" y="346.4" font-size="8.4" fill="#1a1a1a">KD</text>
<rect x="374.8" y="340.3" width="6.4" height="6.4" fill="#7a3045" stroke="#333" stroke-width="0.6"/>
<text class="w" x="385.40000000000003" y="346.4" font-size="8.4" fill="#1a1a1a">PRR</text>
<rect x="408.8" y="340.3" width="6.4" height="6.4" fill="#2e6a92" stroke="#333" stroke-width="0.6"/>
<text class="w" x="419.40000000000003" y="346.4" font-size="8.4" fill="#1a1a1a">Catalytic</text>
<path d="M25.75 425.9 V558" stroke="#222" stroke-width="1"/>
<path d="M25.75 558 H174.5" stroke="#222" stroke-width="1"/>
<path d="M25.75 558 V562.4" stroke="#222" stroke-width="1"/>
<path d="M55.50 558 V562.4" stroke="#222" stroke-width="1"/>
<path d="M85.25 558 V562.4" stroke="#222" stroke-width="1"/>
<path d="M115.00 558 V562.4" stroke="#222" stroke-width="1"/>
<path d="M144.75 558 V562.4" stroke="#222" stroke-width="1"/>
<path d="M174.50 558 V562.4" stroke="#222" stroke-width="1"/>
<text class="w" x="25.8" y="572.2" font-size="8.6" text-anchor="middle" fill="#1a1a1a">0</text>
<text class="w" x="55.50" y="574.6" font-size="8.6" text-anchor="middle" fill="#1a1a1a">1×10<tspan font-size="6" dy="-3.5">5</tspan></text>
<text class="w" x="85.25" y="574.6" font-size="8.6" text-anchor="middle" fill="#1a1a1a">2×10<tspan font-size="6" dy="-3.5">5</tspan></text>
<text class="w" x="115.00" y="574.6" font-size="8.6" text-anchor="middle" fill="#1a1a1a">3×10<tspan font-size="6" dy="-3.5">5</tspan></text>
<text class="w" x="144.75" y="574.6" font-size="8.6" text-anchor="middle" fill="#1a1a1a">4×10<tspan font-size="6" dy="-3.5">5</tspan></text>
<text class="w" x="174.50" y="574.6" font-size="8.6" text-anchor="middle" fill="#1a1a1a">5×10<tspan font-size="6" dy="-3.5">5</tspan></text>
<text x="100.3" y="586.8" font-size="8.9" text-anchor="middle" fill="#1a1a1a">Participants</text>
<text class="w" x="22.6" y="467.2" font-size="9.8" text-anchor="end" fill="#1a1a1a">AoU</text>
<text class="w" x="22.6" y="523.6" font-size="9.8" text-anchor="end" fill="#1a1a1a">UKB</text>
<rect x="25.75" y="445.2" width="53.10" height="37.30000000000001" fill="#2f7ab5" stroke="#444" stroke-width="0.7"/>
<rect x="78.85" y="445.2" width="19.70" height="37.30000000000001" fill="#f8d064" stroke="#444" stroke-width="0.7"/>
<rect x="98.55" y="445.2" width="16.80" height="37.30000000000001" fill="#e5433e" stroke="#444" stroke-width="0.7"/>
<rect x="115.35" y="445.2" width="2.10" height="37.30000000000001" fill="#8a1550" stroke="#444" stroke-width="0.7"/>
<rect x="117.45" y="445.2" width="1.60" height="37.30000000000001" fill="#6f9a68" stroke="#444" stroke-width="0.7"/>
<rect x="119.05" y="445.2" width="0.50" height="37.30000000000001" fill="#111" stroke="#444" stroke-width="0.7"/>
<rect x="25.75" y="501.5" width="127.75" height="37.5" fill="#2f7ab5" stroke="#444" stroke-width="0.7"/>
<rect x="153.50" y="501.5" width="2.50" height="37.5" fill="#f8d064" stroke="#444" stroke-width="0.7"/>
<rect x="156.00" y="501.5" width="0.40" height="37.5" fill="#e5433e" stroke="#444" stroke-width="0.7"/>
<rect x="156.40" y="501.5" width="0.90" height="37.5" fill="#5a1030" stroke="#444" stroke-width="0.7"/>
<rect x="157.30" y="501.5" width="2.30" height="37.5" fill="#79a86f" stroke="#444" stroke-width="0.7"/>
<rect x="159.60" y="501.5" width="0.20" height="37.5" fill="#111" stroke="#444" stroke-width="0.7"/>
<rect x="180.7" y="456.20" width="5.2" height="5.2" fill="#f8d064" stroke="#555" stroke-width="0.5"/>
<text class="w" x="192.5" y="462.00" font-size="9" fill="#1a1a1a">AFR</text>
<rect x="180.7" y="471.40" width="5.2" height="5.2" fill="#e5433e" stroke="#555" stroke-width="0.5"/>
<text class="w" x="192.5" y="477.20" font-size="9" fill="#1a1a1a">AMR</text>
<rect x="180.7" y="486.60" width="5.2" height="5.2" fill="#8a1550" stroke="#555" stroke-width="0.5"/>
<text class="w" x="192.5" y="492.40" font-size="9" fill="#1a1a1a">EAS</text>
<rect x="180.7" y="501.80" width="5.2" height="5.2" fill="#2f7ab5" stroke="#555" stroke-width="0.5"/>
<text class="w" x="192.5" y="507.60" font-size="9" fill="#1a1a1a">EUR</text>
<rect x="180.7" y="517.00" width="5.2" height="5.2" fill="#79a86f" stroke="#555" stroke-width="0.5"/>
<text class="w" x="192.5" y="522.80" font-size="9" fill="#1a1a1a">SAS</text>
<rect x="180.7" y="532.20" width="5.2" height="5.2" fill="#111" stroke="#555" stroke-width="0.5"/>
<text class="w" x="192.5" y="538.00" font-size="9" fill="#1a1a1a">MID</text>
<path d="M275.7 422.5 V562.4" stroke="#222" stroke-width="1"/>
<path d="M275.7 558.0 H441.2" stroke="#222" stroke-width="1.1"/>
<path d="M275.70 558.0 V562.4" stroke="#222" stroke-width="1"/>
<path d="M288.13 558.0 V561.0" stroke="#222" stroke-width="0.8"/>
<path d="M295.41 558.0 V561.0" stroke="#222" stroke-width="0.8"/>
<path d="M300.57 558.0 V561.0" stroke="#222" stroke-width="0.8"/>
<path d="M304.57 558.0 V561.0" stroke="#222" stroke-width="0.8"/>
<path d="M307.84 558.0 V561.0" stroke="#222" stroke-width="0.8"/>
<path d="M310.60 558.0 V561.0" stroke="#222" stroke-width="0.8"/>
<path d="M313.00 558.0 V561.0" stroke="#222" stroke-width="0.8"/>
<path d="M315.11 558.0 V561.0" stroke="#222" stroke-width="0.8"/>
<path d="M317.00 558.0 V562.4" stroke="#222" stroke-width="1"/>
<path d="M329.43 558.0 V561.0" stroke="#222" stroke-width="0.8"/>
<path d="M336.71 558.0 V561.0" stroke="#222" stroke-width="0.8"/>
<path d="M341.87 558.0 V561.0" stroke="#222" stroke-width="0.8"/>
<path d="M345.87 558.0 V561.0" stroke="#222" stroke-width="0.8"/>
<path d="M349.14 558.0 V561.0" stroke="#222" stroke-width="0.8"/>
<path d="M351.90 558.0 V561.0" stroke="#222" stroke-width="0.8"/>
<path d="M354.30 558.0 V561.0" stroke="#222" stroke-width="0.8"/>
<path d="M356.41 558.0 V561.0" stroke="#222" stroke-width="0.8"/>
<path d="M358.30 558.0 V562.4" stroke="#222" stroke-width="1"/>
<path d="M370.73 558.0 V561.0" stroke="#222" stroke-width="0.8"/>
<path d="M378.01 558.0 V561.0" stroke="#222" stroke-width="0.8"/>
<path d="M383.17 558.0 V561.0" stroke="#222" stroke-width="0.8"/>
<path d="M387.17 558.0 V561.0" stroke="#222" stroke-width="0.8"/>
<path d="M390.44 558.0 V561.0" stroke="#222" stroke-width="0.8"/>
<path d="M393.20 558.0 V561.0" stroke="#222" stroke-width="0.8"/>
<path d="M395.60 558.0 V561.0" stroke="#222" stroke-width="0.8"/>
<path d="M397.71 558.0 V561.0" stroke="#222" stroke-width="0.8"/>
<path d="M399.60 558.0 V562.4" stroke="#222" stroke-width="1"/>
<path d="M412.03 558.0 V561.0" stroke="#222" stroke-width="0.8"/>
<path d="M419.31 558.0 V561.0" stroke="#222" stroke-width="0.8"/>
<path d="M424.47 558.0 V561.0" stroke="#222" stroke-width="0.8"/>
<path d="M428.47 558.0 V561.0" stroke="#222" stroke-width="0.8"/>
<path d="M431.74 558.0 V561.0" stroke="#222" stroke-width="0.8"/>
<path d="M434.50 558.0 V561.0" stroke="#222" stroke-width="0.8"/>
<path d="M436.90 558.0 V561.0" stroke="#222" stroke-width="0.8"/>
<path d="M439.01 558.0 V561.0" stroke="#222" stroke-width="0.8"/>
<path d="M440.90 558.0 V562.4" stroke="#222" stroke-width="1"/>
<text class="w" x="275.70" y="572.9" font-size="9.3" text-anchor="middle" fill="#1a1a1a">0.0001</text>
<text class="w" x="317.00" y="572.9" font-size="9.3" text-anchor="middle" fill="#1a1a1a">0.001</text>
<text class="w" x="358.30" y="572.9" font-size="9.3" text-anchor="middle" fill="#1a1a1a">0.01</text>
<text class="w" x="399.60" y="572.9" font-size="9.3" text-anchor="middle" fill="#1a1a1a">0.1</text>
<text class="w" x="440.90" y="572.9" font-size="9.3" text-anchor="middle" fill="#1a1a1a">1</text>
<path d="M271.3 425.90 H275.7" stroke="#222" stroke-width="1"/>
<text class="w" x="269.3" y="429.30" font-size="9.3" text-anchor="end" fill="#1a1a1a">1.00</text>
<path d="M271.3 455.80 H275.7" stroke="#222" stroke-width="1"/>
<text class="w" x="269.3" y="459.20" font-size="9.3" text-anchor="end" fill="#1a1a1a">0.75</text>
<path d="M271.3 485.70 H275.7" stroke="#222" stroke-width="1"/>
<text class="w" x="269.3" y="489.10" font-size="9.3" text-anchor="end" fill="#1a1a1a">0.50</text>
<path d="M271.3 515.60 H275.7" stroke="#222" stroke-width="1"/>
<text class="w" x="269.3" y="519.00" font-size="9.3" text-anchor="end" fill="#1a1a1a">0.25</text>
<path d="M271.3 545.50 H275.7" stroke="#222" stroke-width="1"/>
<text class="w" x="269.3" y="548.90" font-size="9.3" text-anchor="end" fill="#1a1a1a">0.00</text>
<text class="w" x="359.2" y="587" font-size="8.9" text-anchor="middle" fill="#1a1a1a">Within-Biobank MAF (%)</text>
<text class="w" transform="translate(244.3 493.8) rotate(-90)" font-size="8.9" text-anchor="middle" fill="#1a1a1a">Functional Impact Score (FIS)</text>
<circle cx="424.2" cy="455.00" r="2.4" fill="#f8d064"/>
<text class="w" x="432.5" y="458.20" font-size="8.9" fill="#1a1a1a">AoU</text>
<circle cx="424.2" cy="467.80" r="2.4" fill="#2f7ab5"/>
<text class="w" x="432.5" y="471.00" font-size="8.9" fill="#1a1a1a">UKB</text>
<circle cx="424.2" cy="480.60" r="2.4" fill="#79a86f"/>
<text class="w" x="432.5" y="483.80" font-size="8.9" fill="#1a1a1a">Both</text>
<path d="M511.5 426.3 V558.3 H594.4" fill="none" stroke="#1a1a1a" stroke-width="1.2"/>
<path d="M507.0 426.30 H511.5" stroke="#1a1a1a" stroke-width="1.2"/>
<text class="w" x="504.0" y="429.60" font-size="9.1" text-anchor="end" fill="#1a1a1a">1</text>
<path d="M507.0 492.20 H511.5" stroke="#1a1a1a" stroke-width="1.2"/>
<text class="w" x="504.0" y="495.50" font-size="9.1" text-anchor="end" fill="#1a1a1a">0.1</text>
<path d="M507.0 558.10 H511.5" stroke="#1a1a1a" stroke-width="1.2"/>
<text class="w" x="504.0" y="561.40" font-size="9.1" text-anchor="end" fill="#1a1a1a">0.01</text>
<path d="M509.0 472.36 H511.5" stroke="#1a1a1a" stroke-width="0.9"/>
<path d="M509.0 460.76 H511.5" stroke="#1a1a1a" stroke-width="0.9"/>
<path d="M509.0 452.52 H511.5" stroke="#1a1a1a" stroke-width="0.9"/>
<path d="M509.0 446.14 H511.5" stroke="#1a1a1a" stroke-width="0.9"/>
<path d="M509.0 440.92 H511.5" stroke="#1a1a1a" stroke-width="0.9"/>
<path d="M509.0 436.51 H511.5" stroke="#1a1a1a" stroke-width="0.9"/>
<path d="M509.0 432.69 H511.5" stroke="#1a1a1a" stroke-width="0.9"/>
<path d="M509.0 429.32 H511.5" stroke="#1a1a1a" stroke-width="0.9"/>
<path d="M509.0 538.26 H511.5" stroke="#1a1a1a" stroke-width="0.9"/>
<path d="M509.0 526.66 H511.5" stroke="#1a1a1a" stroke-width="0.9"/>
<path d="M509.0 518.42 H511.5" stroke="#1a1a1a" stroke-width="0.9"/>
<path d="M509.0 512.04 H511.5" stroke="#1a1a1a" stroke-width="0.9"/>
<path d="M509.0 506.82 H511.5" stroke="#1a1a1a" stroke-width="0.9"/>
<path d="M509.0 502.41 H511.5" stroke="#1a1a1a" stroke-width="0.9"/>
<path d="M509.0 498.59 H511.5" stroke="#1a1a1a" stroke-width="0.9"/>
<path d="M509.0 495.22 H511.5" stroke="#1a1a1a" stroke-width="0.9"/>
<path d="M525.40 558.3 V562.7" stroke="#1a1a1a" stroke-width="1.2"/>
<text class="w" x="525.40" y="573.6" font-size="9.3" text-anchor="middle" fill="#1a1a1a">0.0</text>
<path d="M559.90 558.3 V562.7" stroke="#1a1a1a" stroke-width="1.2"/>
<text class="w" x="559.90" y="573.6" font-size="9.3" text-anchor="middle" fill="#1a1a1a">0.5</text>
<path d="M594.40 558.3 V562.7" stroke="#1a1a1a" stroke-width="1.2"/>
<text class="w" x="594.40" y="573.6" font-size="9.3" text-anchor="middle" fill="#1a1a1a">1.0</text>
<text class="w" x="553.1" y="585.6" font-size="8.9" text-anchor="middle" fill="#1a1a1a">FIS Stringency</text>
<text class="w" transform="translate(479.4 493.6) rotate(-90)" font-size="8.9" text-anchor="middle" fill="#1a1a1a">Normalized Variant Allele Count</text>
<polyline points="525.40,426.30 539.20,440.92 553.00,467.38 573.70,498.23 587.50,528.63 594.40,531.31" fill="none" stroke="#e0504a" stroke-width="1.1"/>
<path d="M522.40 428.70 L525.40 423.30 L528.40 428.70 Z" fill="#e0504a"/>
<path d="M536.20 443.32 L539.20 437.92 L542.20 443.32 Z" fill="#e0504a"/>
<path d="M550.00 469.78 L553.00 464.38 L556.00 469.78 Z" fill="#e0504a"/>
<path d="M570.70 500.63 L573.70 495.23 L576.70 500.63 Z" fill="#e0504a"/>
<path d="M584.50 531.03 L587.50 525.63 L590.50 531.03 Z" fill="#e0504a"/>
<path d="M591.40 533.71 L594.40 528.31 L597.40 533.71 Z" fill="#e0504a"/>
<polyline points="525.40,426.30 539.20,439.52 553.00,467.38 573.70,493.37 587.50,519.52 594.40,521.44" fill="none" stroke="#f7a035" stroke-width="1.1"/>
<rect x="522.70" y="423.60" width="5.4" height="5.4" fill="#f7a035"/>
<rect x="536.50" y="436.82" width="5.4" height="5.4" fill="#f7a035"/>
<rect x="550.30" y="464.68" width="5.4" height="5.4" fill="#f7a035"/>
<rect x="571.00" y="490.67" width="5.4" height="5.4" fill="#f7a035"/>
<rect x="584.80" y="516.82" width="5.4" height="5.4" fill="#f7a035"/>
<rect x="591.70" y="518.74" width="5.4" height="5.4" fill="#f7a035"/>
<polyline points="525.40,426.30 539.20,453.25 553.00,467.38 573.70,473.83 587.50,481.17 594.40,481.17" fill="none" stroke="#111" stroke-width="1.1"/>
<circle cx="525.40" cy="426.30" r="2.8" fill="#111"/>
<circle cx="539.20" cy="453.25" r="2.8" fill="#111"/>
<circle cx="553.00" cy="467.38" r="2.8" fill="#111"/>
<circle cx="573.70" cy="473.83" r="2.8" fill="#111"/>
<circle cx="587.50" cy="481.17" r="2.8" fill="#111"/>
<circle cx="594.40" cy="481.17" r="2.8" fill="#111"/>
<path d="M562.7 419.50 H581.5" stroke="#111" stroke-width="1.1"/>
<circle cx="572.0" cy="419.50" r="2.6" fill="#111"/>
<text class="w" x="591.2" y="422.70" font-size="8.9" font-style="italic" fill="#1a1a1a">F12</text>
<path d="M562.7 431.45 H581.5" stroke="#f7a035" stroke-width="1.1"/>
<rect x="569.5" y="428.95" width="5" height="5" fill="#f7a035"/>
<text class="w" x="591.2" y="434.65" font-size="8.9" fill="#1a1a1a">VK clotting factors</text>
<path d="M562.7 443.40 H581.5" stroke="#e0504a" stroke-width="1.1"/>
<path d="M569.2 445.60 L572.0 440.60 L574.8 445.60 Z" fill="#e0504a"/>
<text class="w" x="591.2" y="446.60" font-size="8.9" fill="#1a1a1a">Essential clotting factors</text>
<circle cx="280.3" cy="440.0" r="2.4" fill="#79a86f"/>
<circle cx="280.6" cy="446.0" r="2.4" fill="#79a86f"/>
<circle cx="280.2" cy="449.0" r="2.4" fill="#79a86f"/>
<circle cx="280.2" cy="452.0" r="2.4" fill="#79a86f"/>
<circle cx="280.3" cy="455.0" r="2.4" fill="#79a86f"/>
<circle cx="280.5" cy="458.0" r="2.4" fill="#79a86f"/>
<circle cx="280.4" cy="464.0" r="2.4" fill="#79a86f"/>
<circle cx="281.0" cy="476.0" r="2.4" fill="#79a86f"/>
<circle cx="280.9" cy="479.0" r="2.4" fill="#79a86f"/>
<circle cx="280.3" cy="482.0" r="2.4" fill="#79a86f"/>
<circle cx="280.4" cy="485.0" r="2.4" fill="#79a86f"/>
<circle cx="280.7" cy="491.0" r="2.4" fill="#79a86f"/>
<circle cx="280.6" cy="497.0" r="2.4" fill="#79a86f"/>
<circle cx="280.2" cy="500.0" r="2.4" fill="#79a86f"/>
<circle cx="280.7" cy="503.0" r="2.4" fill="#79a86f"/>
<circle cx="280.5" cy="506.0" r="2.4" fill="#79a86f"/>
<circle cx="280.4" cy="512.0" r="2.4" fill="#79a86f"/>
<circle cx="280.7" cy="521.0" r="2.4" fill="#79a86f"/>
<circle cx="280.9" cy="524.0" r="2.4" fill="#79a86f"/>
<circle cx="281.0" cy="530.0" r="2.4" fill="#79a86f"/>
<circle cx="280.5" cy="533.0" r="2.4" fill="#79a86f"/>
<circle cx="280.6" cy="539.0" r="2.4" fill="#79a86f"/>
<circle cx="280.7" cy="542.0" r="2.4" fill="#79a86f"/>
<circle cx="287.2" cy="454.0" r="2.4" fill="#79a86f"/>
<circle cx="287.2" cy="478.0" r="2.4" fill="#79a86f"/>
<circle cx="286.9" cy="490.0" r="2.4" fill="#79a86f"/>
<circle cx="287.0" cy="496.0" r="2.4" fill="#79a86f"/>
<circle cx="286.7" cy="499.0" r="2.4" fill="#79a86f"/>
<circle cx="287.2" cy="502.0" r="2.4" fill="#79a86f"/>
<circle cx="286.8" cy="505.0" r="2.4" fill="#79a86f"/>
<circle cx="287.0" cy="514.0" r="2.4" fill="#79a86f"/>
<circle cx="286.9" cy="529.0" r="2.4" fill="#79a86f"/>
<circle cx="286.7" cy="541.0" r="2.4" fill="#79a86f"/>
<circle cx="286.8" cy="544.0" r="2.4" fill="#79a86f"/>
<circle cx="292.6" cy="456.0" r="2.4" fill="#79a86f"/>
<circle cx="293.3" cy="483.0" r="2.4" fill="#79a86f"/>
<circle cx="293.1" cy="501.0" r="2.4" fill="#79a86f"/>
<circle cx="292.7" cy="504.0" r="2.4" fill="#79a86f"/>
<circle cx="292.7" cy="507.0" r="2.4" fill="#79a86f"/>
<circle cx="292.6" cy="510.0" r="2.4" fill="#79a86f"/>
<circle cx="292.7" cy="513.0" r="2.4" fill="#79a86f"/>
<circle cx="292.9" cy="516.0" r="2.4" fill="#79a86f"/>
<circle cx="293.3" cy="519.0" r="2.4" fill="#79a86f"/>
<circle cx="292.8" cy="525.0" r="2.4" fill="#79a86f"/>
<circle cx="292.9" cy="528.0" r="2.4" fill="#79a86f"/>
<circle cx="293.3" cy="531.0" r="2.4" fill="#79a86f"/>
<circle cx="292.7" cy="543.0" r="2.4" fill="#79a86f"/>
<circle cx="300.8" cy="444.0" r="2.4" fill="#79a86f"/>
<circle cx="300.6" cy="450.0" r="2.4" fill="#79a86f"/>
<circle cx="300.7" cy="456.0" r="2.4" fill="#79a86f"/>
<circle cx="300.6" cy="459.0" r="2.4" fill="#79a86f"/>
<circle cx="301.4" cy="462.0" r="2.4" fill="#79a86f"/>
<circle cx="300.9" cy="471.0" r="2.4" fill="#79a86f"/>
<circle cx="301.2" cy="474.0" r="2.4" fill="#79a86f"/>
<circle cx="301.2" cy="477.0" r="2.4" fill="#79a86f"/>
<circle cx="300.8" cy="480.0" r="2.4" fill="#79a86f"/>
<circle cx="301.0" cy="501.0" r="2.4" fill="#79a86f"/>
<circle cx="300.6" cy="504.0" r="2.4" fill="#79a86f"/>
<circle cx="300.8" cy="507.0" r="2.4" fill="#79a86f"/>
<circle cx="301.2" cy="510.0" r="2.4" fill="#79a86f"/>
<circle cx="301.3" cy="516.0" r="2.4" fill="#79a86f"/>
<circle cx="300.8" cy="525.0" r="2.4" fill="#79a86f"/>
<circle cx="300.8" cy="528.0" r="2.4" fill="#79a86f"/>
<circle cx="301.1" cy="531.0" r="2.4" fill="#79a86f"/>
<circle cx="301.1" cy="540.0" r="2.4" fill="#79a86f"/>
<circle cx="280.9" cy="425.9" r="2.4" fill="#79a86f"/>
<circle cx="310.1" cy="425.9" r="2.4" fill="#79a86f"/>
<circle cx="332.9" cy="425.9" r="2.4" fill="#79a86f"/>
<circle cx="378.2" cy="425.9" r="2.4" fill="#79a86f"/>
<circle cx="318.0" cy="434.2" r="2.4" fill="#79a86f"/>
<circle cx="302.7" cy="442.3" r="2.4" fill="#79a86f"/>
<circle cx="306.2" cy="442.3" r="2.4" fill="#79a86f"/>
<circle cx="315.8" cy="442.6" r="2.4" fill="#79a86f"/>
<circle cx="332.1" cy="446.4" r="2.4" fill="#79a86f"/>
<circle cx="316.2" cy="450.3" r="2.4" fill="#79a86f"/>
<circle cx="329.9" cy="451.7" r="2.4" fill="#79a86f"/>
<circle cx="347.0" cy="455.0" r="2.4" fill="#79a86f"/>
<circle cx="343.3" cy="459.2" r="2.4" fill="#79a86f"/>
<circle cx="305.5" cy="459.2" r="2.4" fill="#79a86f"/>
<circle cx="313.9" cy="467.5" r="2.4" fill="#79a86f"/>
<circle cx="310.1" cy="471.0" r="2.4" fill="#79a86f"/>
<circle cx="327.4" cy="471.4" r="2.4" fill="#79a86f"/>
<circle cx="333.0" cy="471.4" r="2.4" fill="#79a86f"/>
<circle cx="303.0" cy="476.0" r="2.4" fill="#79a86f"/>
<circle cx="308.0" cy="476.0" r="2.4" fill="#79a86f"/>
<circle cx="312.5" cy="480.0" r="2.4" fill="#79a86f"/>
<circle cx="315.0" cy="481.0" r="2.4" fill="#79a86f"/>
<circle cx="328.4" cy="481.8" r="2.4" fill="#79a86f"/>
<circle cx="316.2" cy="492.0" r="2.4" fill="#79a86f"/>
<circle cx="334.0" cy="492.3" r="2.4" fill="#79a86f"/>
<circle cx="312.0" cy="494.0" r="2.4" fill="#79a86f"/>
<circle cx="305.0" cy="494.0" r="2.4" fill="#79a86f"/>
<circle cx="304.5" cy="496.4" r="2.4" fill="#79a86f"/>
<circle cx="313.0" cy="496.4" r="2.4" fill="#79a86f"/>
<circle cx="309.2" cy="500.0" r="2.4" fill="#79a86f"/>
<circle cx="324.2" cy="508.5" r="2.4" fill="#79a86f"/>
<circle cx="332.1" cy="508.5" r="2.4" fill="#79a86f"/>
<circle cx="339.1" cy="508.5" r="2.4" fill="#79a86f"/>
<circle cx="315.3" cy="517.0" r="2.4" fill="#79a86f"/>
<circle cx="330.7" cy="515.8" r="2.4" fill="#79a86f"/>
<circle cx="347.0" cy="516.0" r="2.4" fill="#79a86f"/>
<circle cx="306.0" cy="521.0" r="2.4" fill="#79a86f"/>
<circle cx="319.0" cy="521.0" r="2.4" fill="#79a86f"/>
<circle cx="324.0" cy="521.0" r="2.4" fill="#79a86f"/>
<circle cx="329.0" cy="521.0" r="2.4" fill="#79a86f"/>
<circle cx="326.0" cy="525.0" r="2.4" fill="#79a86f"/>
<circle cx="333.5" cy="525.0" r="2.4" fill="#79a86f"/>
<circle cx="347.0" cy="524.3" r="2.4" fill="#79a86f"/>
<circle cx="318.0" cy="529.6" r="2.4" fill="#79a86f"/>
<circle cx="328.0" cy="529.6" r="2.4" fill="#79a86f"/>
<circle cx="333.0" cy="529.6" r="2.4" fill="#79a86f"/>
<circle cx="336.0" cy="529.6" r="2.4" fill="#79a86f"/>
<circle cx="341.5" cy="529.6" r="2.4" fill="#79a86f"/>
<circle cx="327.0" cy="533.3" r="2.4" fill="#79a86f"/>
<circle cx="333.0" cy="533.3" r="2.4" fill="#79a86f"/>
<circle cx="336.0" cy="533.3" r="2.4" fill="#79a86f"/>
<circle cx="320.0" cy="537.5" r="2.4" fill="#79a86f"/>
<circle cx="341.0" cy="537.5" r="2.4" fill="#79a86f"/>
<circle cx="323.0" cy="541.3" r="2.4" fill="#79a86f"/>
<circle cx="327.0" cy="541.3" r="2.4" fill="#79a86f"/>
<circle cx="330.0" cy="541.3" r="2.4" fill="#79a86f"/>
<circle cx="339.1" cy="541.3" r="2.4" fill="#79a86f"/>
<circle cx="301.0" cy="545.5" r="2.4" fill="#79a86f"/>
<circle cx="317.5" cy="545.5" r="2.4" fill="#79a86f"/>
<circle cx="358.6" cy="446.3" r="2.4" fill="#79a86f"/>
<circle cx="348.9" cy="455.0" r="2.4" fill="#79a86f"/>
<circle cx="343.0" cy="458.8" r="2.4" fill="#79a86f"/>
<circle cx="362.9" cy="485.8" r="2.4" fill="#79a86f"/>
<circle cx="358.3" cy="498.6" r="2.4" fill="#79a86f"/>
<circle cx="360.4" cy="507.2" r="2.4" fill="#79a86f"/>
<circle cx="347.6" cy="515.9" r="2.4" fill="#79a86f"/>
<circle cx="401.9" cy="514.4" r="2.4" fill="#79a86f"/>
<circle cx="347.1" cy="524.0" r="2.4" fill="#79a86f"/>
<circle cx="359.9" cy="524.6" r="2.4" fill="#79a86f"/>
<circle cx="342.0" cy="529.1" r="2.4" fill="#79a86f"/>
<circle cx="384.1" cy="533.0" r="2.4" fill="#79a86f"/>
<circle cx="341.3" cy="537.3" r="2.4" fill="#79a86f"/>
<circle cx="354.5" cy="537.3" r="2.4" fill="#79a86f"/>
<circle cx="371.8" cy="537.3" r="2.4" fill="#79a86f"/>
<circle cx="374.9" cy="537.3" r="2.4" fill="#79a86f"/>
<circle cx="374.9" cy="541.6" r="2.4" fill="#79a86f"/>
<circle cx="399.4" cy="537.3" r="2.4" fill="#79a86f"/>
<circle cx="419.0" cy="537.3" r="2.4" fill="#79a86f"/>
<circle cx="351.5" cy="546.0" r="2.4" fill="#79a86f"/>
<circle cx="317.3" cy="521.0" r="2.4" fill="#79a86f"/>
<circle cx="322.0" cy="521.0" r="2.4" fill="#79a86f"/>
<circle cx="326.5" cy="521.0" r="2.4" fill="#79a86f"/>
<circle cx="329.5" cy="521.0" r="2.4" fill="#79a86f"/>
<circle cx="308.0" cy="525.0" r="2.4" fill="#79a86f"/>
<circle cx="323.0" cy="525.0" r="2.4" fill="#79a86f"/>
<circle cx="327.5" cy="525.0" r="2.4" fill="#79a86f"/>
<circle cx="332.8" cy="525.0" r="2.4" fill="#79a86f"/>
<circle cx="301.8" cy="529.3" r="2.4" fill="#79a86f"/>
<circle cx="317.3" cy="529.3" r="2.4" fill="#79a86f"/>
<circle cx="328.0" cy="529.3" r="2.4" fill="#79a86f"/>
<circle cx="332.0" cy="529.3" r="2.4" fill="#79a86f"/>
<circle cx="333.4" cy="529.3" r="2.4" fill="#79a86f"/>
<circle cx="320.0" cy="533.5" r="2.4" fill="#79a86f"/>
<circle cx="324.0" cy="533.5" r="2.4" fill="#79a86f"/>
<circle cx="328.0" cy="533.5" r="2.4" fill="#79a86f"/>
<circle cx="333.0" cy="533.5" r="2.4" fill="#79a86f"/>
<circle cx="301.0" cy="537.5" r="2.4" fill="#79a86f"/>
<circle cx="319.9" cy="537.5" r="2.4" fill="#79a86f"/>
<circle cx="323.0" cy="541.4" r="2.4" fill="#79a86f"/>
<circle cx="327.0" cy="541.4" r="2.4" fill="#79a86f"/>
<circle cx="329.5" cy="541.4" r="2.4" fill="#79a86f"/>
<circle cx="300.8" cy="545.5" r="2.4" fill="#79a86f"/>
<circle cx="316.6" cy="545.5" r="2.4" fill="#79a86f"/>
<circle cx="311.5" cy="481.0" r="2.4" fill="#79a86f"/>
<circle cx="312.0" cy="484.0" r="2.4" fill="#79a86f"/>
<circle cx="328.1" cy="481.8" r="2.4" fill="#79a86f"/>
<circle cx="312.4" cy="494.5" r="2.4" fill="#79a86f"/>
<circle cx="313.5" cy="496.4" r="2.4" fill="#79a86f"/>
<circle cx="304.3" cy="496.2" r="2.4" fill="#79a86f"/>
<circle cx="309.4" cy="500.0" r="2.4" fill="#79a86f"/>
<circle cx="277.5" cy="434.0" r="2.4" fill="#2f7ab5"/>
<circle cx="277.5" cy="436.8" r="2.4" fill="#2f7ab5"/>
<circle cx="277.5" cy="439.6" r="2.4" fill="#2f7ab5"/>
<circle cx="277.5" cy="442.4" r="2.4" fill="#2f7ab5"/>
<circle cx="277.5" cy="445.2" r="2.4" fill="#2f7ab5"/>
<circle cx="277.5" cy="448.0" r="2.4" fill="#2f7ab5"/>
<circle cx="277.5" cy="450.8" r="2.4" fill="#2f7ab5"/>
<circle cx="277.5" cy="453.6" r="2.4" fill="#2f7ab5"/>
<circle cx="277.5" cy="456.4" r="2.4" fill="#2f7ab5"/>
<circle cx="277.5" cy="459.2" r="2.4" fill="#2f7ab5"/>
<circle cx="277.5" cy="462.0" r="2.4" fill="#2f7ab5"/>
<circle cx="277.5" cy="464.8" r="2.4" fill="#2f7ab5"/>
<circle cx="277.5" cy="467.6" r="2.4" fill="#2f7ab5"/>
<circle cx="277.5" cy="470.4" r="2.4" fill="#2f7ab5"/>
<circle cx="277.5" cy="473.2" r="2.4" fill="#2f7ab5"/>
<circle cx="277.5" cy="476.0" r="2.4" fill="#2f7ab5"/>
<circle cx="277.5" cy="478.8" r="2.4" fill="#2f7ab5"/>
<circle cx="277.5" cy="481.6" r="2.4" fill="#2f7ab5"/>
<circle cx="277.5" cy="484.4" r="2.4" fill="#2f7ab5"/>
<circle cx="277.5" cy="487.2" r="2.4" fill="#2f7ab5"/>
<circle cx="277.5" cy="490.0" r="2.4" fill="#2f7ab5"/>
<circle cx="277.5" cy="492.8" r="2.4" fill="#2f7ab5"/>
<circle cx="277.5" cy="495.6" r="2.4" fill="#2f7ab5"/>
<circle cx="277.5" cy="498.4" r="2.4" fill="#2f7ab5"/>
<circle cx="277.5" cy="501.2" r="2.4" fill="#2f7ab5"/>
<circle cx="277.5" cy="509.6" r="2.4" fill="#2f7ab5"/>
<circle cx="277.5" cy="512.4" r="2.4" fill="#2f7ab5"/>
<circle cx="277.5" cy="515.2" r="2.4" fill="#2f7ab5"/>
<circle cx="277.5" cy="518.0" r="2.4" fill="#2f7ab5"/>
<circle cx="277.5" cy="520.8" r="2.4" fill="#2f7ab5"/>
<circle cx="277.5" cy="523.6" r="2.4" fill="#2f7ab5"/>
<circle cx="277.5" cy="526.4" r="2.4" fill="#2f7ab5"/>
<circle cx="277.5" cy="529.2" r="2.4" fill="#2f7ab5"/>
<circle cx="277.5" cy="532.0" r="2.4" fill="#2f7ab5"/>
<circle cx="277.5" cy="534.8" r="2.4" fill="#2f7ab5"/>
<circle cx="277.5" cy="537.6" r="2.4" fill="#2f7ab5"/>
<circle cx="277.5" cy="540.4" r="2.4" fill="#2f7ab5"/>
<circle cx="277.5" cy="543.2" r="2.4" fill="#2f7ab5"/>
<circle cx="289.7" cy="442.0" r="2.4" fill="#2f7ab5"/>
<circle cx="289.7" cy="444.8" r="2.4" fill="#2f7ab5"/>
<circle cx="289.7" cy="447.6" r="2.4" fill="#2f7ab5"/>
<circle cx="289.7" cy="450.4" r="2.4" fill="#2f7ab5"/>
<circle cx="289.7" cy="453.2" r="2.4" fill="#2f7ab5"/>
<circle cx="289.7" cy="456.0" r="2.4" fill="#2f7ab5"/>
<circle cx="289.7" cy="461.6" r="2.4" fill="#2f7ab5"/>
<circle cx="289.7" cy="464.4" r="2.4" fill="#2f7ab5"/>
<circle cx="289.7" cy="467.2" r="2.4" fill="#2f7ab5"/>
<circle cx="289.7" cy="470.0" r="2.4" fill="#2f7ab5"/>
<circle cx="289.7" cy="475.6" r="2.4" fill="#2f7ab5"/>
<circle cx="289.7" cy="478.4" r="2.4" fill="#2f7ab5"/>
<circle cx="289.7" cy="481.2" r="2.4" fill="#2f7ab5"/>
<circle cx="289.7" cy="484.0" r="2.4" fill="#2f7ab5"/>
<circle cx="289.7" cy="486.8" r="2.4" fill="#2f7ab5"/>
<circle cx="289.7" cy="489.6" r="2.4" fill="#2f7ab5"/>
<circle cx="289.7" cy="492.4" r="2.4" fill="#2f7ab5"/>
<circle cx="289.7" cy="495.2" r="2.4" fill="#2f7ab5"/>
<circle cx="289.7" cy="498.0" r="2.4" fill="#2f7ab5"/>
<circle cx="289.7" cy="500.8" r="2.4" fill="#2f7ab5"/>
<circle cx="289.7" cy="503.6" r="2.4" fill="#2f7ab5"/>
<circle cx="289.7" cy="506.4" r="2.4" fill="#2f7ab5"/>
<circle cx="289.7" cy="509.2" r="2.4" fill="#2f7ab5"/>
<circle cx="289.7" cy="512.0" r="2.4" fill="#2f7ab5"/>
<circle cx="289.7" cy="514.8" r="2.4" fill="#2f7ab5"/>
<circle cx="289.7" cy="517.6" r="2.4" fill="#2f7ab5"/>
<circle cx="289.7" cy="520.4" r="2.4" fill="#2f7ab5"/>
<circle cx="289.7" cy="523.2" r="2.4" fill="#2f7ab5"/>
<circle cx="289.7" cy="526.0" r="2.4" fill="#2f7ab5"/>
<circle cx="289.7" cy="528.8" r="2.4" fill="#2f7ab5"/>
<circle cx="289.7" cy="531.6" r="2.4" fill="#2f7ab5"/>
<circle cx="289.7" cy="534.4" r="2.4" fill="#2f7ab5"/>
<circle cx="289.7" cy="537.2" r="2.4" fill="#2f7ab5"/>
<circle cx="289.7" cy="540.0" r="2.4" fill="#2f7ab5"/>
<circle cx="289.7" cy="542.8" r="2.4" fill="#2f7ab5"/>
<circle cx="277.5" cy="425.9" r="2.4" fill="#2f7ab5"/>
<circle cx="289.7" cy="425.9" r="2.4" fill="#2f7ab5"/>
<circle cx="290.4" cy="425.9" r="2.4" fill="#2f7ab5"/>
<circle cx="301.0" cy="425.9" r="2.4" fill="#2f7ab5"/>
<circle cx="307.1" cy="425.9" r="2.4" fill="#2f7ab5"/>
<circle cx="319.3" cy="425.9" r="2.4" fill="#2f7ab5"/>
<circle cx="407.8" cy="425.9" r="2.4" fill="#2f7ab5"/>
<circle cx="289.7" cy="430.1" r="2.4" fill="#2f7ab5"/>
<circle cx="312.5" cy="441.9" r="2.4" fill="#2f7ab5"/>
<circle cx="297.0" cy="446.1" r="2.4" fill="#2f7ab5"/>
<circle cx="302.2" cy="449.8" r="2.4" fill="#2f7ab5"/>
<circle cx="309.2" cy="449.8" r="2.4" fill="#2f7ab5"/>
<circle cx="327.0" cy="449.8" r="2.4" fill="#2f7ab5"/>
<circle cx="306.9" cy="454.5" r="2.4" fill="#2f7ab5"/>
<circle cx="319.0" cy="454.0" r="2.4" fill="#2f7ab5"/>
<circle cx="302.2" cy="462.0" r="2.4" fill="#2f7ab5"/>
<circle cx="306.4" cy="466.2" r="2.4" fill="#2f7ab5"/>
<circle cx="302.2" cy="469.9" r="2.4" fill="#2f7ab5"/>
<circle cx="312.5" cy="473.6" r="2.4" fill="#2f7ab5"/>
<circle cx="302.5" cy="479.0" r="2.4" fill="#2f7ab5"/>
<circle cx="307.0" cy="479.5" r="2.4" fill="#2f7ab5"/>
<circle cx="304.5" cy="483.5" r="2.4" fill="#2f7ab5"/>
<circle cx="324.6" cy="477.8" r="2.4" fill="#2f7ab5"/>
<circle cx="300.0" cy="487.0" r="2.4" fill="#2f7ab5"/>
<circle cx="308.5" cy="485.5" r="2.4" fill="#2f7ab5"/>
<circle cx="314.4" cy="486.6" r="2.4" fill="#2f7ab5"/>
<circle cx="301.5" cy="490.0" r="2.4" fill="#2f7ab5"/>
<circle cx="306.4" cy="512.3" r="2.4" fill="#2f7ab5"/>
<circle cx="300.8" cy="521.2" r="2.4" fill="#2f7ab5"/>
<circle cx="307.0" cy="529.6" r="2.4" fill="#2f7ab5"/>
<circle cx="312.0" cy="529.6" r="2.4" fill="#2f7ab5"/>
<circle cx="300.0" cy="533.3" r="2.4" fill="#2f7ab5"/>
<circle cx="313.0" cy="533.3" r="2.4" fill="#2f7ab5"/>
<circle cx="316.7" cy="533.3" r="2.4" fill="#2f7ab5"/>
<circle cx="305.0" cy="537.5" r="2.4" fill="#2f7ab5"/>
<circle cx="306.0" cy="545.5" r="2.4" fill="#2f7ab5"/>
<circle cx="309.0" cy="545.5" r="2.4" fill="#2f7ab5"/>
<circle cx="283.9" cy="442.3" r="2.4" fill="#f8d064"/>
<circle cx="283.9" cy="445.1" r="2.4" fill="#f8d064"/>
<circle cx="283.9" cy="447.9" r="2.4" fill="#f8d064"/>
<circle cx="283.9" cy="450.7" r="2.4" fill="#f8d064"/>
<circle cx="283.9" cy="453.5" r="2.4" fill="#f8d064"/>
<circle cx="283.9" cy="456.3" r="2.4" fill="#f8d064"/>
<circle cx="283.9" cy="459.1" r="2.4" fill="#f8d064"/>
<circle cx="283.9" cy="461.9" r="2.4" fill="#f8d064"/>
<circle cx="283.9" cy="464.7" r="2.4" fill="#f8d064"/>
<circle cx="283.9" cy="467.5" r="2.4" fill="#f8d064"/>
<circle cx="283.9" cy="470.3" r="2.4" fill="#f8d064"/>
<circle cx="283.9" cy="473.1" r="2.4" fill="#f8d064"/>
<circle cx="283.9" cy="475.9" r="2.4" fill="#f8d064"/>
<circle cx="283.9" cy="478.7" r="2.4" fill="#f8d064"/>
<circle cx="283.9" cy="481.5" r="2.4" fill="#f8d064"/>
<circle cx="283.9" cy="484.3" r="2.4" fill="#f8d064"/>
<circle cx="283.9" cy="487.1" r="2.4" fill="#f8d064"/>
<circle cx="283.9" cy="489.9" r="2.4" fill="#f8d064"/>
<circle cx="283.9" cy="492.7" r="2.4" fill="#f8d064"/>
<circle cx="283.9" cy="495.5" r="2.4" fill="#f8d064"/>
<circle cx="283.9" cy="498.3" r="2.4" fill="#f8d064"/>
<circle cx="283.9" cy="501.1" r="2.4" fill="#f8d064"/>
<circle cx="283.9" cy="503.9" r="2.4" fill="#f8d064"/>
<circle cx="283.9" cy="506.7" r="2.4" fill="#f8d064"/>
<circle cx="283.9" cy="509.5" r="2.4" fill="#f8d064"/>
<circle cx="283.9" cy="512.3" r="2.4" fill="#f8d064"/>
<circle cx="283.9" cy="515.1" r="2.4" fill="#f8d064"/>
<circle cx="283.9" cy="517.9" r="2.4" fill="#f8d064"/>
<circle cx="283.9" cy="520.7" r="2.4" fill="#f8d064"/>
<circle cx="283.9" cy="523.5" r="2.4" fill="#f8d064"/>
<circle cx="283.9" cy="526.3" r="2.4" fill="#f8d064"/>
<circle cx="283.9" cy="529.1" r="2.4" fill="#f8d064"/>
<circle cx="283.9" cy="531.9" r="2.4" fill="#f8d064"/>
<circle cx="283.9" cy="534.7" r="2.4" fill="#f8d064"/>
<circle cx="283.9" cy="537.5" r="2.4" fill="#f8d064"/>
<circle cx="283.9" cy="540.3" r="2.4" fill="#f8d064"/>
<circle cx="283.9" cy="543.1" r="2.4" fill="#f8d064"/>
<circle cx="296.4" cy="450.0" r="2.4" fill="#f8d064"/>
<circle cx="296.4" cy="452.8" r="2.4" fill="#f8d064"/>
<circle cx="296.4" cy="455.6" r="2.4" fill="#f8d064"/>
<circle cx="296.4" cy="458.4" r="2.4" fill="#f8d064"/>
<circle cx="296.4" cy="461.2" r="2.4" fill="#f8d064"/>
<circle cx="296.4" cy="464.0" r="2.4" fill="#f8d064"/>
<circle cx="296.4" cy="466.8" r="2.4" fill="#f8d064"/>
<circle cx="296.4" cy="469.6" r="2.4" fill="#f8d064"/>
<circle cx="296.4" cy="472.4" r="2.4" fill="#f8d064"/>
<circle cx="296.4" cy="475.2" r="2.4" fill="#f8d064"/>
<circle cx="296.4" cy="478.0" r="2.4" fill="#f8d064"/>
<circle cx="296.4" cy="480.8" r="2.4" fill="#f8d064"/>
<circle cx="296.4" cy="483.6" r="2.4" fill="#f8d064"/>
<circle cx="296.4" cy="486.4" r="2.4" fill="#f8d064"/>
<circle cx="296.4" cy="489.2" r="2.4" fill="#f8d064"/>
<circle cx="296.4" cy="492.0" r="2.4" fill="#f8d064"/>
<circle cx="296.4" cy="494.8" r="2.4" fill="#f8d064"/>
<circle cx="296.4" cy="497.6" r="2.4" fill="#f8d064"/>
<circle cx="296.4" cy="500.4" r="2.4" fill="#f8d064"/>
<circle cx="296.4" cy="503.2" r="2.4" fill="#f8d064"/>
<circle cx="296.4" cy="506.0" r="2.4" fill="#f8d064"/>
<circle cx="296.4" cy="508.8" r="2.4" fill="#f8d064"/>
<circle cx="296.4" cy="511.6" r="2.4" fill="#f8d064"/>
<circle cx="296.4" cy="514.4" r="2.4" fill="#f8d064"/>
<circle cx="296.4" cy="517.2" r="2.4" fill="#f8d064"/>
<circle cx="296.4" cy="520.0" r="2.4" fill="#f8d064"/>
<circle cx="296.4" cy="522.8" r="2.4" fill="#f8d064"/>
<circle cx="296.4" cy="525.6" r="2.4" fill="#f8d064"/>
<circle cx="296.4" cy="528.4" r="2.4" fill="#f8d064"/>
<circle cx="296.4" cy="531.2" r="2.4" fill="#f8d064"/>
<circle cx="296.4" cy="534.0" r="2.4" fill="#f8d064"/>
<circle cx="296.4" cy="536.8" r="2.4" fill="#f8d064"/>
<circle cx="296.4" cy="539.6" r="2.4" fill="#f8d064"/>
<circle cx="296.4" cy="542.4" r="2.4" fill="#f8d064"/>
<circle cx="296.4" cy="545.2" r="2.4" fill="#f8d064"/>
<circle cx="283.9" cy="425.9" r="2.4" fill="#f8d064"/>
<circle cx="296.1" cy="425.9" r="2.4" fill="#f8d064"/>
<circle cx="303.6" cy="425.9" r="2.4" fill="#f8d064"/>
<circle cx="312.8" cy="425.9" r="2.4" fill="#f8d064"/>
<circle cx="315.8" cy="425.9" r="2.4" fill="#f8d064"/>
<circle cx="323.7" cy="425.9" r="2.4" fill="#f8d064"/>
<circle cx="325.9" cy="425.9" r="2.4" fill="#f8d064"/>
<circle cx="329.9" cy="425.9" r="2.4" fill="#f8d064"/>
<circle cx="337.7" cy="425.9" r="2.4" fill="#f8d064"/>
<circle cx="296.4" cy="442.3" r="2.4" fill="#f8d064"/>
<circle cx="308.7" cy="446.4" r="2.4" fill="#f8d064"/>
<circle cx="303.6" cy="455.0" r="2.4" fill="#f8d064"/>
<circle cx="313.0" cy="455.0" r="2.4" fill="#f8d064"/>
<circle cx="316.2" cy="455.0" r="2.4" fill="#f8d064"/>
<circle cx="308.3" cy="463.3" r="2.4" fill="#f8d064"/>
<circle cx="313.0" cy="463.3" r="2.4" fill="#f8d064"/>
<circle cx="323.2" cy="463.3" r="2.4" fill="#f8d064"/>
<circle cx="325.1" cy="471.4" r="2.4" fill="#f8d064"/>
<circle cx="318.6" cy="479.6" r="2.4" fill="#f8d064"/>
<circle cx="315.8" cy="484.0" r="2.4" fill="#f8d064"/>
<circle cx="303.1" cy="487.7" r="2.4" fill="#f8d064"/>
<circle cx="308.7" cy="488.0" r="2.4" fill="#f8d064"/>
<circle cx="320.9" cy="492.3" r="2.4" fill="#f8d064"/>
<circle cx="303.6" cy="500.0" r="2.4" fill="#f8d064"/>
<circle cx="303.6" cy="504.0" r="2.4" fill="#f8d064"/>
<circle cx="308.7" cy="504.0" r="2.4" fill="#f8d064"/>
<circle cx="316.2" cy="504.0" r="2.4" fill="#f8d064"/>
<circle cx="303.6" cy="508.0" r="2.4" fill="#f8d064"/>
<circle cx="308.7" cy="508.0" r="2.4" fill="#f8d064"/>
<circle cx="316.2" cy="508.0" r="2.4" fill="#f8d064"/>
<circle cx="312.5" cy="512.3" r="2.4" fill="#f8d064"/>
<circle cx="303.6" cy="517.0" r="2.4" fill="#f8d064"/>
<circle cx="312.5" cy="521.2" r="2.4" fill="#f8d064"/>
<circle cx="303.6" cy="524.9" r="2.4" fill="#f8d064"/>
<circle cx="312.5" cy="524.9" r="2.4" fill="#f8d064"/>
<circle cx="318.6" cy="524.9" r="2.4" fill="#f8d064"/>
<circle cx="323.2" cy="528.7" r="2.4" fill="#f8d064"/>
<circle cx="303.6" cy="533.3" r="2.4" fill="#f8d064"/>
<circle cx="309.0" cy="533.3" r="2.4" fill="#f8d064"/>
<circle cx="309.0" cy="537.5" r="2.4" fill="#f8d064"/>
<circle cx="314.0" cy="537.5" r="2.4" fill="#f8d064"/>
<circle cx="327.0" cy="536.5" r="2.4" fill="#f8d064"/>
<circle cx="332.0" cy="536.5" r="2.4" fill="#f8d064"/>
<circle cx="336.3" cy="536.5" r="2.4" fill="#f8d064"/>
<circle cx="303.6" cy="541.3" r="2.4" fill="#f8d064"/>
<circle cx="309.0" cy="541.3" r="2.4" fill="#f8d064"/>
<circle cx="313.0" cy="541.3" r="2.4" fill="#f8d064"/>
<circle cx="319.0" cy="541.3" r="2.4" fill="#f8d064"/>
<circle cx="312.7" cy="545.5" r="2.4" fill="#f8d064"/>
</svg>
</body></html>
